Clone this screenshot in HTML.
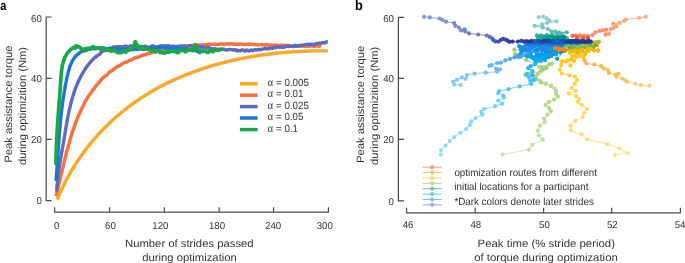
<!DOCTYPE html>
<html><head><meta charset="utf-8"><style>
html,body{margin:0;padding:0;background:#fff;width:685px;height:263px;overflow:hidden}
svg{display:block;will-change:transform}
text{font-family:"Liberation Sans",sans-serif;fill:#333333;text-rendering:geometricPrecision}
</style></head><body>
<svg width="685" height="263" viewBox="0 0 685 263">
<g stroke="#4a4a4a" stroke-width="1.2" fill="none">
<path d="M51.6,17 H46.2 V200.7 H51.6 M46.2,78.3 H51.6 M46.2,139.4 H51.6"/>
<path d="M54.6,207.2 V212.2 H328.4 V207.2 M109.5,212.2 V207.2 M164.4,212.2 V207.2 M219.1,212.2 V207.2 M273.6,212.2 V207.2"/>
<path d="M404,17.3 H398.4 V200.9 H404 M398.4,78.3 H404 M398.4,139.4 H404"/>
<path d="M406.6,207.8 V212.8 H680.4 V207.8 M475.1,212.9 V207.8 M543.6,212.9 V207.8 M611.6,212.9 V207.8"/>
</g>
<path d="M57.2,199.7 L57.4,199.2 L57.6,198.6 L57.8,198.1 L58.0,197.6 L58.3,197.0 L58.5,196.5 L58.7,196.0 L59.0,195.5 L59.2,194.9 L59.4,194.4 L59.6,193.9 L59.9,193.4 L60.1,192.8 L60.3,192.3 L60.6,191.8 L60.8,191.3 L61.1,190.7 L61.3,190.2 L61.5,189.7 L61.8,189.2 L62.0,188.7 L62.3,188.2 L62.5,187.6 L62.8,187.1 L63.0,186.6 L63.3,186.1 L63.5,185.6 L63.8,185.1 L64.0,184.6 L64.3,184.1 L64.5,183.6 L64.8,183.1 L65.0,182.6 L65.3,182.0 L65.5,181.5 L65.8,181.0 L66.1,180.5 L66.3,180.0 L66.6,179.5 L66.9,179.0 L67.1,178.5 L67.4,178.1 L67.7,177.6 L67.9,177.1 L68.2,176.6 L68.5,176.1 L68.7,175.6 L69.0,175.1 L69.3,174.6 L69.6,174.1 L69.8,173.6 L70.1,173.1 L70.4,172.7 L70.7,172.2 L71.0,171.7 L71.2,171.2 L71.5,170.7 L71.8,170.2 L72.1,169.8 L72.4,169.3 L72.7,168.8 L73.0,168.3 L73.3,167.8 L73.5,167.4 L73.8,166.9 L74.1,166.4 L74.4,165.9 L74.7,165.5 L75.0,165.0 L75.3,164.5 L75.6,164.1 L75.9,163.6 L76.2,163.1 L76.5,162.7 L76.8,162.2 L77.1,161.7 L77.4,161.3 L77.7,160.8 L78.1,160.3 L78.4,159.9 L78.7,159.4 L79.0,159.0 L79.3,158.5 L79.6,158.0 L79.9,157.6 L80.2,157.1 L80.6,156.7 L80.9,156.2 L81.2,155.8 L81.5,155.3 L81.8,154.9 L82.1,154.4 L82.5,154.0 L82.8,153.5 L83.1,153.1 L83.4,152.6 L83.8,152.2 L84.1,151.8 L84.4,151.3 L84.8,150.9 L85.1,150.4 L85.4,150.0 L85.7,149.6 L86.1,149.1 L86.4,148.7 L86.7,148.2 L87.1,147.8 L87.4,147.4 L87.8,146.9 L88.1,146.5 L88.4,146.1 L88.8,145.7 L89.1,145.2 L89.5,144.8 L89.8,144.4 L90.2,143.9 L90.5,143.5 L90.8,143.1 L91.2,142.7 L91.5,142.2 L91.9,141.8 L92.2,141.4 L92.6,141.0 L93.0,140.6 L93.3,140.2 L93.7,139.7 L94.0,139.3 L94.4,138.9 L94.7,138.5 L95.1,138.1 L95.4,137.7 L95.8,137.3 L96.2,136.9 L96.5,136.4 L96.9,136.0 L97.3,135.6 L97.6,135.2 L98.0,134.8 L98.4,134.4 L98.7,134.0 L99.1,133.6 L99.5,133.2 L99.8,132.8 L100.2,132.4 L100.6,132.0 L101.0,131.6 L101.3,131.2 L101.7,130.8 L102.1,130.4 L102.5,130.0 L102.8,129.7 L103.2,129.3 L103.6,128.9 L104.0,128.5 L104.4,128.1 L104.7,127.7 L105.1,127.3 L105.5,126.9 L105.9,126.6 L106.3,126.2 L106.7,125.8 L107.1,125.4 L107.4,125.0 L107.8,124.7 L108.2,124.3 L108.6,123.9 L109.0,123.5 L109.4,123.2 L109.8,122.8 L110.2,122.4 L110.6,122.0 L111.0,121.7 L111.4,121.3 L111.8,120.9 L112.2,120.6 L112.6,120.2 L113.0,119.8 L113.4,119.5 L113.8,119.1 L114.2,118.7 L114.6,118.4 L115.0,118.0 L115.4,117.7 L115.8,117.3 L116.2,116.9 L116.6,116.6 L117.0,116.2 L117.4,115.9 L117.8,115.5 L118.3,115.2 L118.7,114.8 L119.1,114.5 L119.5,114.1 L119.9,113.8 L120.3,113.4 L120.7,113.1 L121.2,112.7 L121.6,112.4 L122.0,112.0 L122.4,111.7 L122.8,111.4 L123.3,111.0 L123.7,110.7 L124.1,110.3 L124.5,110.0 L125.0,109.7 L125.4,109.3 L125.8,109.0 L126.2,108.7 L126.7,108.3 L127.1,108.0 L127.5,107.7 L127.9,107.3 L128.4,107.0 L128.8,106.7 L129.2,106.4 L129.7,106.0 L130.1,105.7 L130.5,105.4 L131.0,105.1 L131.4,104.7 L131.9,104.4 L132.3,104.1 L132.7,103.8 L133.2,103.5 L133.6,103.2 L134.0,102.8 L134.5,102.5 L134.9,102.2 L135.4,101.9 L135.8,101.6 L136.3,101.3 L136.7,101.0 L137.2,100.7 L137.6,100.4 L138.0,100.1 L138.5,99.7 L138.9,99.4 L139.4,99.1 L139.8,98.8 L140.3,98.5 L140.7,98.2 L141.2,97.9 L141.6,97.6 L142.1,97.4 L142.6,97.1 L143.0,96.8 L143.5,96.5 L143.9,96.2 L144.4,95.9 L144.8,95.6 L145.3,95.3 L145.8,95.0 L146.2,94.7 L146.7,94.4 L147.1,94.2 L147.6,93.9 L148.1,93.6 L148.5,93.3 L149.0,93.0 L149.5,92.8 L149.9,92.5 L150.4,92.2 L150.9,91.9 L151.3,91.6 L151.8,91.4 L152.3,91.1 L152.7,90.8 L153.2,90.6 L153.7,90.3 L154.1,90.0 L154.6,89.8 L155.1,89.5 L155.6,89.2 L156.0,89.0 L156.5,88.7 L157.0,88.4 L157.5,88.2 L157.9,87.9 L158.4,87.6 L158.9,87.4 L159.4,87.1 L159.8,86.9 L160.3,86.6 L160.8,86.4 L161.3,86.1 L161.8,85.9 L162.2,85.6 L162.7,85.4 L163.2,85.1 L163.7,84.9 L164.2,84.6 L164.7,84.4 L165.1,84.1 L165.6,83.9 L166.1,83.6 L166.6,83.4 L167.1,83.2 L167.6,82.9 L168.1,82.7 L168.6,82.4 L169.1,82.2 L169.5,82.0 L170.0,81.7 L170.5,81.5 L171.0,81.3 L171.5,81.0 L172.0,80.8 L172.5,80.6 L173.0,80.3 L173.5,80.1 L174.0,79.9 L174.5,79.7 L175.0,79.4 L175.5,79.2 L176.0,79.0 L176.5,78.8 L177.0,78.5 L177.5,78.3 L178.0,78.1 L178.5,77.9 L179.0,77.7 L179.5,77.5 L180.0,77.2 L180.5,77.0 L181.0,76.8 L181.5,76.6 L182.0,76.4 L182.5,76.2 L183.0,76.0 L183.5,75.8 L184.0,75.6 L184.5,75.3 L185.0,75.1 L185.5,74.9 L186.0,74.7 L186.5,74.5 L187.1,74.3 L187.6,74.1 L188.1,73.9 L188.6,73.7 L189.1,73.5 L189.6,73.3 L190.1,73.1 L190.6,72.9 L191.1,72.8 L191.7,72.6 L192.2,72.4 L192.7,72.2 L193.2,72.0 L193.7,71.8 L194.2,71.6 L194.7,71.4 L195.3,71.2 L195.8,71.1 L196.3,70.9 L196.8,70.7 L197.3,70.5 L197.8,70.3 L198.4,70.1 L198.9,70.0 L199.4,69.8 L199.9,69.6 L200.4,69.4 L201.0,69.3 L201.5,69.1 L202.0,68.9 L202.5,68.7 L203.0,68.6 L203.6,68.4 L204.1,68.2 L204.6,68.1 L205.1,67.9 L205.7,67.7 L206.2,67.5 L206.7,67.4 L207.2,67.2 L207.8,67.1 L208.3,66.9 L208.8,66.7 L209.3,66.6 L209.9,66.4 L210.4,66.2 L210.9,66.1 L211.4,65.9 L212.0,65.8 L212.5,65.6 L213.0,65.5 L213.6,65.3 L214.1,65.2 L214.6,65.0 L215.1,64.9 L215.7,64.7 L216.2,64.6 L216.7,64.4 L217.3,64.3 L217.8,64.1 L218.3,64.0 L218.9,63.8 L219.4,63.7 L219.9,63.5 L220.5,63.4 L221.0,63.3 L221.5,63.1 L222.1,63.0 L222.6,62.8 L223.1,62.7 L223.7,62.6 L224.2,62.4 L224.7,62.3 L225.3,62.2 L225.8,62.0 L226.3,61.9 L226.9,61.8 L227.4,61.6 L228.0,61.5 L228.5,61.4 L229.0,61.2 L229.6,61.1 L230.1,61.0 L230.6,60.9 L231.2,60.7 L231.7,60.6 L232.3,60.5 L232.8,60.4 L233.3,60.2 L233.9,60.1 L234.4,60.0 L235.0,59.9 L235.5,59.8 L236.0,59.6 L236.6,59.5 L237.1,59.4 L237.7,59.3 L238.2,59.2 L238.8,59.1 L239.3,59.0 L239.8,58.8 L240.4,58.7 L240.9,58.6 L241.5,58.5 L242.0,58.4 L242.5,58.3 L243.1,58.2 L243.6,58.1 L244.2,58.0 L244.7,57.9 L245.3,57.8 L245.8,57.7 L246.4,57.6 L246.9,57.5 L247.4,57.4 L248.0,57.3 L248.5,57.2 L249.1,57.1 L249.6,57.0 L250.2,56.9 L250.7,56.8 L251.3,56.7 L251.8,56.6 L252.4,56.5 L252.9,56.4 L253.4,56.3 L254.0,56.2 L254.5,56.2 L255.1,56.1 L255.6,56.0 L256.2,55.9 L256.7,55.8 L257.3,55.7 L257.8,55.6 L258.4,55.6 L258.9,55.5 L259.5,55.4 L260.0,55.3 L260.6,55.2 L261.1,55.1 L261.6,55.1 L262.2,55.0 L262.7,54.9 L263.3,54.8 L263.8,54.8 L264.4,54.7 L264.9,54.6 L265.5,54.5 L266.0,54.5 L266.6,54.4 L267.1,54.3 L267.7,54.2 L268.2,54.2 L268.8,54.1 L269.3,54.0 L269.9,54.0 L270.4,53.9 L271.0,53.8 L271.5,53.8 L272.1,53.7 L272.6,53.6 L273.2,53.6 L273.7,53.5 L274.3,53.5 L274.8,53.4 L275.4,53.3 L275.9,53.3 L276.5,53.2 L277.0,53.2 L277.6,53.1 L278.1,53.1 L278.7,53.0 L279.2,52.9 L279.8,52.9 L280.3,52.8 L280.9,52.8 L281.4,52.7 L282.0,52.7 L282.5,52.6 L283.1,52.6 L283.6,52.5 L284.1,52.5 L284.7,52.4 L285.2,52.4 L285.8,52.3 L286.3,52.3 L286.9,52.3 L287.4,52.2 L288.0,52.2 L288.5,52.1 L289.1,52.1 L289.6,52.0 L290.2,52.0 L290.7,52.0 L291.3,51.9 L291.8,51.9 L292.4,51.9 L292.9,51.8 L293.5,51.8 L294.0,51.7 L294.6,51.7 L295.1,51.7 L295.7,51.6 L296.2,51.6 L296.8,51.6 L297.3,51.6 L297.9,51.5 L298.4,51.5 L299.0,51.5 L299.5,51.4 L300.1,51.4 L300.6,51.4 L301.1,51.4 L301.7,51.3 L302.2,51.3 L302.8,51.3 L303.3,51.3 L303.9,51.2 L304.4,51.2 L305.0,51.2 L305.5,51.2 L306.1,51.2 L306.6,51.1 L307.2,51.1 L307.7,51.1 L308.2,51.1 L308.8,51.1 L309.3,51.0 L309.9,51.0 L310.4,51.0 L311.0,51.0 L311.5,51.0 L312.1,51.0 L312.6,51.0 L313.1,51.0 L313.7,50.9 L314.2,50.9 L314.8,50.9 L315.3,50.9 L315.9,50.9 L316.4,50.9 L317.0,50.9 L317.5,50.9 L318.0,50.9 L318.6,50.9 L319.1,50.9 L319.7,50.9 L320.2,50.9 L320.7,50.9 L321.3,50.9 L321.8,50.9 L322.4,50.9 L322.9,50.9 L323.5,50.9 L324.0,50.9 L324.5,50.9 L325.1,50.9 L325.6,50.9 L326.2,50.9 L326.7,50.9 L327.2,50.9 L327.8,50.9" fill="none" stroke="#FFA726" stroke-width="3.4" stroke-linejoin="round" stroke-linecap="butt"/>
<path d="M55.9,196.1 L56.1,195.6 L56.2,195.0 L56.4,194.5 L56.5,193.9 L56.7,193.4 L56.8,192.8 L56.9,192.3 L57.1,191.7 L57.2,191.2 L57.4,190.6 L57.5,190.1 L57.6,189.5 L57.8,189.0 L57.9,188.4 L58.1,187.8 L58.2,187.3 L58.3,186.7 L58.5,186.2 L58.6,185.6 L58.7,185.0 L58.9,184.5 L59.0,183.9 L59.1,183.3 L59.3,182.8 L59.4,182.2 L59.6,181.6 L59.7,181.1 L59.8,180.5 L60.0,179.9 L60.1,179.4 L60.2,178.8 L60.4,178.2 L60.5,177.7 L60.6,177.1 L60.8,176.5 L60.9,175.9 L61.0,175.4 L61.2,174.8 L61.3,174.2 L61.4,173.6 L61.6,173.1 L61.7,172.5 L61.9,171.9 L62.0,171.3 L62.1,170.8 L62.3,170.2 L62.4,169.6 L62.5,169.0 L62.7,168.4 L62.8,167.9 L62.9,167.3 L63.1,166.7 L63.2,166.1 L63.4,165.5 L63.5,165.0 L63.6,164.4 L63.8,163.8 L63.9,163.2 L64.0,162.6 L64.2,162.0 L64.3,161.5 L64.5,160.9 L64.6,160.3 L64.8,159.7 L64.9,159.1 L65.0,158.5 L65.2,158.0 L65.3,157.4 L65.5,156.8 L65.6,156.2 L65.8,155.6 L65.9,155.0 L66.1,154.5 L66.2,153.9 L66.4,153.3 L66.5,152.7 L66.7,152.1 L66.8,151.5 L67.0,150.9 L67.1,150.4 L67.3,149.8 L67.4,149.2 L67.6,148.6 L67.7,148.0 L67.9,147.4 L68.0,146.9 L68.2,146.3 L68.4,145.7 L68.5,145.1 L68.7,144.5 L68.8,144.0 L69.0,143.4 L69.2,142.8 L69.3,142.2 L69.5,141.6 L69.7,141.0 L69.8,140.5 L70.0,139.9 L70.2,139.3 L70.4,138.7 L70.5,138.1 L70.7,137.6 L70.9,137.0 L71.1,136.4 L71.2,135.8 L71.4,135.3 L71.6,134.7 L71.8,134.1 L72.0,133.5 L72.1,133.0 L72.3,132.4 L72.5,131.8 L72.7,131.2 L72.9,130.7 L73.1,130.1 L73.3,129.5 L73.5,129.0 L73.7,128.4 L73.9,127.8 L74.1,127.2 L74.3,126.7 L74.5,126.1 L74.7,125.5 L74.9,125.0 L75.1,124.4 L75.3,123.9 L75.5,123.3 L75.7,122.7 L75.9,122.2 L76.1,121.6 L76.3,121.0 L76.6,120.5 L76.8,119.9 L77.0,119.4 L77.2,118.8 L77.4,118.3 L77.7,117.7 L77.9,117.1 L78.1,116.6 L78.4,116.0 L78.6,115.5 L78.8,114.9 L79.1,114.4 L79.3,113.8 L79.6,113.3 L79.8,112.8 L80.0,112.1 L80.3,111.9 L80.5,111.4 L80.8,110.6 L81.0,109.8 L81.3,109.5 L81.6,109.1 L81.8,108.6 L82.1,108.0 L82.3,107.5 L82.6,107.0 L82.9,106.4 L83.1,105.8 L83.4,105.2 L83.7,104.8 L84.0,104.2 L84.2,103.5 L84.5,102.7 L84.8,102.2 L85.1,101.7 L85.4,101.2 L85.7,100.8 L86.0,100.3 L86.3,99.7 L86.6,99.2 L86.9,98.7 L87.2,98.1 L87.5,97.6 L87.8,97.2 L88.1,96.8 L88.4,96.5 L88.7,95.9 L89.0,95.2 L89.4,94.9 L89.7,94.7 L90.0,94.3 L90.3,93.7 L90.7,93.1 L91.0,92.6 L91.3,92.1 L91.7,91.6 L92.0,91.2 L92.3,90.6 L92.7,89.9 L93.0,89.6 L93.4,89.4 L93.7,89.0 L94.1,88.5 L94.4,88.0 L94.8,87.5 L95.2,87.0 L95.5,86.4 L95.9,85.8 L96.3,85.5 L96.6,85.2 L97.0,84.8 L97.4,84.3 L97.8,83.8 L98.2,83.3 L98.5,82.9 L98.9,82.5 L99.3,82.2 L99.7,81.6 L100.1,81.1 L100.5,80.6 L100.9,80.0 L101.3,79.6 L101.7,79.3 L102.1,78.8 L102.5,78.3 L103.0,77.7 L103.4,77.3 L103.8,76.9 L104.2,76.7 L104.6,76.6 L105.1,76.2 L105.5,75.9 L105.9,75.5 L106.4,75.2 L106.8,74.9 L107.3,74.5 L107.7,74.0 L108.1,73.5 L108.6,73.0 L109.0,72.5 L109.5,72.0 L110.0,71.6 L110.4,71.4 L110.9,71.2 L111.4,71.1 L111.8,70.9 L112.3,70.5 L112.8,70.1 L113.2,69.6 L113.7,69.2 L114.2,68.8 L114.7,68.5 L115.2,68.1 L115.7,67.7 L116.2,67.3 L116.6,67.0 L117.1,66.7 L117.6,66.3 L118.1,66.0 L118.6,65.9 L119.1,65.9 L119.7,65.8 L120.2,65.4 L120.7,65.0 L121.2,64.5 L121.7,64.0 L122.2,63.8 L122.7,63.7 L123.2,63.3 L123.8,62.9 L124.3,62.6 L124.8,62.4 L125.3,62.3 L125.9,62.2 L126.4,62.1 L126.9,61.8 L127.4,61.6 L128.0,61.3 L128.5,60.9 L129.0,60.6 L129.6,60.3 L130.1,60.1 L130.7,60.0 L131.2,59.9 L131.7,59.8 L132.3,59.7 L132.8,59.3 L133.4,58.8 L133.9,58.4 L134.5,58.1 L135.0,57.8 L135.5,57.6 L136.1,57.4 L136.6,57.2 L137.2,57.0 L137.7,57.2 L138.3,57.4 L138.8,57.0 L139.4,56.6 L139.9,56.5 L140.5,56.4 L141.0,56.1 L141.6,55.6 L142.2,55.3 L142.7,55.1 L143.3,55.0 L143.8,55.0 L144.4,55.0 L144.9,54.9 L145.5,54.8 L146.1,54.5 L146.6,54.1 L147.2,53.7 L147.7,53.5 L148.3,53.3 L148.9,53.4 L149.4,53.6 L150.0,53.2 L150.5,52.8 L151.1,52.7 L151.7,52.8 L152.2,52.6 L152.8,52.2 L153.4,51.9 L153.9,52.0 L154.5,52.1 L155.1,52.0 L155.6,51.9 L156.2,51.7 L156.8,51.5 L157.3,51.2 L157.9,51.0 L158.5,50.8 L159.1,50.8 L159.6,50.7 L160.2,50.4 L160.8,50.0 L161.3,50.0 L161.9,49.9 L162.5,49.8 L163.1,49.8 L163.6,49.8 L164.2,49.8 L164.8,49.7 L165.4,49.3 L165.9,49.0 L166.5,49.2 L167.1,49.4 L167.7,49.2 L168.3,49.1 L168.8,49.0 L169.4,49.0 L170.0,48.8 L170.6,48.4 L171.2,48.1 L171.7,48.0 L172.3,47.8 L172.9,47.7 L173.5,47.7 L174.1,47.8 L174.6,47.9 L175.2,48.0 L175.8,47.9 L176.4,47.8 L177.0,47.6 L177.6,47.4 L178.1,47.2 L178.7,47.1 L179.3,46.9 L179.9,46.7 L180.5,46.9 L181.1,47.0 L181.7,47.0 L182.3,47.0 L182.8,46.7 L183.4,46.3 L184.0,46.1 L184.6,46.0 L185.2,46.1 L185.8,46.3 L186.4,46.4 L187.0,46.4 L187.6,46.3 L188.2,46.1 L188.7,45.8 L189.3,45.7 L189.9,45.6 L190.5,45.5 L191.1,45.6 L191.7,45.6 L192.3,45.5 L192.9,45.5 L193.5,45.3 L194.1,45.1 L194.7,45.3 L195.3,45.5 L195.9,45.5 L196.5,45.3 L197.1,45.3 L197.7,45.3 L198.3,45.2 L198.8,45.0 L199.4,44.8 L200.0,45.1 L200.6,45.3 L201.2,45.2 L201.8,45.1 L202.4,44.9 L203.0,44.7 L203.6,44.8 L204.2,45.0 L204.8,45.0 L205.4,44.9 L206.0,44.8 L206.6,44.9 L207.2,44.8 L207.8,44.5 L208.4,44.1 L209.0,44.1 L209.6,44.1 L210.2,44.3 L210.8,44.6 L211.4,44.5 L212.0,44.3 L212.6,44.2 L213.2,44.3 L213.8,44.3 L214.4,44.1 L215.0,44.1 L215.6,44.4 L216.2,44.7 L216.8,44.5 L217.4,44.3 L218.0,44.4 L218.6,44.5 L219.2,44.3 L219.8,44.0 L220.4,43.9 L221.0,44.1 L221.6,44.1 L222.2,43.9 L222.8,43.9 L223.5,44.2 L224.1,44.5 L224.7,44.3 L225.3,44.1 L225.9,44.0 L226.5,43.8 L227.1,43.8 L227.7,43.8 L228.3,43.9 L228.9,44.1 L229.5,44.1 L230.1,43.9 L230.7,43.8 L231.3,43.8 L231.9,43.9 L232.5,44.0 L233.1,44.1 L233.7,44.1 L234.3,44.2 L234.9,44.2 L235.5,44.3 L236.1,44.3 L236.7,44.3 L237.3,44.3 L237.9,44.2 L238.5,44.2 L239.1,44.3 L239.7,44.3 L240.4,44.1 L241.0,44.0 L241.6,44.0 L242.2,44.1 L242.8,44.3 L243.4,44.6 L244.0,44.4 L244.6,44.1 L245.2,44.1 L245.8,44.1 L246.4,44.2 L247.0,44.2 L247.6,44.2 L248.2,44.3 L248.8,44.4 L249.4,44.2 L250.0,44.0 L250.6,44.1 L251.2,44.1 L251.8,44.3 L252.4,44.5 L253.0,44.5 L253.6,44.4 L254.2,44.4 L254.8,44.7 L255.4,44.8 L256.0,44.9 L256.6,44.9 L257.2,44.9 L257.8,44.8 L258.4,44.9 L259.0,44.9 L259.6,44.9 L260.2,44.7 L260.8,44.6 L261.4,44.5 L262.0,44.6 L262.6,44.7 L263.2,44.8 L263.8,44.8 L264.4,44.9 L265.0,45.0 L265.6,45.1 L266.2,44.9 L266.8,44.7 L267.4,44.8 L268.0,44.8 L268.6,45.0 L269.2,45.3 L269.8,45.3 L270.4,45.1 L271.0,45.0 L271.6,45.1 L272.2,45.2 L272.8,45.4 L273.4,45.7 L274.0,45.4 L274.6,45.1 L275.2,45.1 L275.8,45.0 L276.4,45.2 L277.0,45.5 L277.6,45.6 L278.2,45.5 L278.8,45.5 L279.4,45.6 L280.0,45.6 L280.5,45.3 L281.1,45.1 L281.7,45.3 L282.3,45.4 L282.9,45.4 L283.5,45.2 L284.1,45.2 L284.7,45.3 L285.3,45.5 L285.9,45.7 L286.5,45.8 L287.1,45.6 L287.6,45.3 L288.2,45.4 L288.8,45.5 L289.4,45.8 L290.0,46.1 L290.6,46.2 L291.2,46.2 L291.8,46.2 L292.3,46.0 L292.9,45.8 L293.5,46.0 L294.1,46.1 L294.7,46.1 L295.3,46.0 L295.9,46.0 L296.4,45.9 L297.0,46.0 L297.6,46.1 L298.2,46.2 L298.8,46.0 L299.4,45.7 L299.9,45.9 L300.5,46.2 L301.1,46.1 L301.7,45.7 L302.3,45.8 L302.9,46.1 L303.4,46.3 L304.0,46.3 L304.6,46.2 L305.2,46.1 L305.7,46.0 L306.3,46.1 L306.9,46.2 L307.5,46.2 L308.1,46.1 L308.6,46.0 L309.2,46.2 L309.8,46.3 L310.4,46.0 L310.9,45.8 L311.5,45.8 L312.1,46.0 L312.6,46.1 L313.2,46.2 L313.8,46.4 L314.4,46.4 L314.9,46.4 L315.5,46.1 L316.1,45.8 L316.6,45.7 L317.2,45.7 L317.8,45.8 L318.3,46.1 L318.9,46.3 L319.5,46.0 L320.0,45.8 L320.6,45.7 L321.2,45.5" fill="none" stroke="#FF6E40" stroke-width="3.4" stroke-linejoin="round" stroke-linecap="butt"/>
<path d="M56.6,191.6 L56.7,190.9 L56.7,190.3 L56.8,189.6 L56.8,189.0 L56.9,188.3 L56.9,187.7 L57.0,187.0 L57.0,186.4 L57.1,185.7 L57.1,185.1 L57.2,184.5 L57.2,183.8 L57.3,183.2 L57.4,182.5 L57.4,181.9 L57.5,181.3 L57.6,180.6 L57.6,180.0 L57.7,179.4 L57.8,178.7 L57.9,178.1 L57.9,177.5 L58.0,176.9 L58.1,176.2 L58.2,175.6 L58.2,175.0 L58.3,174.3 L58.4,173.7 L58.5,173.1 L58.6,172.5 L58.7,171.8 L58.7,171.2 L58.8,170.6 L58.9,170.0 L59.0,169.4 L59.1,168.7 L59.2,168.1 L59.3,167.5 L59.4,166.9 L59.5,166.3 L59.6,165.6 L59.6,165.0 L59.7,164.4 L59.8,163.8 L59.9,163.2 L60.0,162.6 L60.1,161.9 L60.2,161.3 L60.3,160.7 L60.4,160.1 L60.5,159.5 L60.6,158.9 L60.7,158.2 L60.8,157.6 L60.9,157.0 L61.1,156.4 L61.2,155.8 L61.3,155.2 L61.4,154.6 L61.5,153.9 L61.6,153.3 L61.7,152.7 L61.8,152.1 L61.9,151.5 L62.0,150.9 L62.1,150.2 L62.2,149.6 L62.3,149.0 L62.4,148.4 L62.5,147.8 L62.6,147.2 L62.7,146.5 L62.9,145.9 L63.0,145.3 L63.1,144.7 L63.2,144.1 L63.3,143.4 L63.4,142.8 L63.5,142.2 L63.6,141.6 L63.7,140.9 L63.8,140.3 L63.9,139.7 L64.0,139.1 L64.1,138.4 L64.2,137.8 L64.3,137.2 L64.4,136.6 L64.5,135.9 L64.7,135.3 L64.8,134.7 L64.9,134.0 L65.0,133.4 L65.1,132.8 L65.2,132.2 L65.3,131.5 L65.4,130.9 L65.5,130.3 L65.6,129.6 L65.7,129.0 L65.8,128.4 L65.9,127.7 L66.0,127.1 L66.1,126.5 L66.3,125.8 L66.4,125.2 L66.5,124.6 L66.6,123.9 L66.7,123.3 L66.8,122.7 L66.9,122.0 L67.0,121.4 L67.2,120.8 L67.3,120.1 L67.4,119.5 L67.5,118.9 L67.6,118.2 L67.7,117.6 L67.9,117.0 L68.0,116.3 L68.1,115.7 L68.2,115.1 L68.4,114.4 L68.5,113.8 L68.6,113.2 L68.8,112.5 L68.9,111.9 L69.0,111.3 L69.2,110.7 L69.3,110.0 L69.4,109.4 L69.6,108.8 L69.7,108.2 L69.9,107.5 L70.0,106.9 L70.2,106.3 L70.3,105.7 L70.5,105.0 L70.6,104.4 L70.8,103.8 L70.9,103.2 L71.1,102.6 L71.3,101.9 L71.4,101.3 L71.6,100.7 L71.8,100.1 L71.9,99.5 L72.1,98.9 L72.3,98.2 L72.5,97.6 L72.6,97.0 L72.8,96.4 L73.0,95.8 L73.2,95.2 L73.4,94.6 L73.6,94.0 L73.8,93.4 L74.0,92.8 L74.2,92.2 L74.4,91.6 L74.6,91.0 L74.8,90.4 L75.0,89.8 L75.2,89.2 L75.4,88.6 L75.7,88.0 L75.9,87.4 L76.1,86.8 L76.3,86.2 L76.6,85.6 L76.8,85.1 L77.1,84.5 L77.3,83.9 L77.6,83.3 L77.8,82.7 L78.1,82.2 L78.3,81.6 L78.6,81.0 L78.8,80.4 L79.1,79.9 L79.4,79.3 L79.7,78.7 L79.9,78.2 L80.2,77.6 L80.5,77.1 L80.8,76.5 L81.1,75.9 L81.4,75.4 L81.7,74.8 L82.0,74.3 L82.3,73.7 L82.6,73.2 L83.0,72.7 L83.3,72.1 L83.6,71.6 L83.9,71.0 L84.3,70.5 L84.6,70.0 L85.0,69.4 L85.3,68.9 L85.7,68.4 L86.0,67.9 L86.4,67.3 L86.8,66.8 L87.1,66.3 L87.5,65.8 L87.9,65.3 L88.3,64.8 L88.7,64.3 L89.0,63.8 L89.4,63.3 L89.8,62.8 L90.3,62.3 L90.7,61.8 L91.1,61.4 L91.5,60.9 L91.9,60.4 L92.4,60.0 L92.8,59.5 L93.2,59.1 L93.7,58.6 L94.1,58.2 L94.6,57.8 L95.0,57.3 L95.5,57.5 L96.0,56.8 L96.4,56.1 L96.9,55.9 L97.4,55.7 L97.9,55.3 L98.3,54.9 L98.8,54.7 L99.3,54.5 L99.8,54.2 L100.3,53.7 L100.8,52.7 L101.4,51.8 L101.9,51.4 L102.4,51.2 L102.9,51.3 L103.4,51.2 L104.0,50.6 L104.5,50.1 L105.1,50.3 L105.6,50.4 L106.2,50.1 L106.7,49.8 L107.3,49.7 L107.8,49.5 L108.4,49.1 L109.0,48.8 L109.6,48.5 L110.1,48.3 L110.7,48.6 L111.3,48.8 L111.9,48.5 L112.5,48.1 L113.1,47.4 L113.7,46.9 L114.3,46.9 L114.9,46.9 L115.5,47.2 L116.1,47.3 L116.7,46.9 L117.3,46.7 L117.9,46.7 L118.5,46.9 L119.2,47.1 L119.8,46.9 L120.4,46.6 L121.0,46.7 L121.7,47.1 L122.3,47.0 L122.9,46.8 L123.6,46.7 L124.2,46.5 L124.8,46.2 L125.5,45.9 L126.1,46.1 L126.7,46.3 L127.4,46.6 L128.0,46.8 L128.7,47.0 L129.3,46.7 L130.0,46.0 L130.6,45.8 L131.3,45.8 L131.9,46.2 L132.5,46.7 L133.2,46.8 L133.8,46.9 L134.5,46.3 L135.1,46.0 L135.8,46.6 L136.4,47.0 L137.1,46.9 L137.7,46.9 L138.4,46.8 L139.0,46.6 L139.7,46.3 L140.3,46.4 L141.0,46.5 L141.6,46.4 L142.3,46.4 L142.9,46.8 L143.6,47.0 L144.2,46.6 L144.9,46.3 L145.5,46.3 L146.1,46.6 L146.8,47.1 L147.4,47.2 L148.1,47.2 L148.7,47.2 L149.4,47.3 L150.0,47.1 L150.6,47.0 L151.3,46.4 L151.9,45.9 L152.5,45.9 L153.2,46.0 L153.8,46.4 L154.5,46.7 L155.1,46.9 L155.7,47.0 L156.4,47.0 L157.0,46.9 L157.6,46.7 L158.3,46.8 L158.9,47.0 L159.6,46.5 L160.2,45.8 L160.8,45.9 L161.5,45.9 L162.1,46.0 L162.7,46.0 L163.4,46.0 L164.0,45.9 L164.6,46.0 L165.3,45.9 L165.9,45.7 L166.5,45.8 L167.2,46.0 L167.8,45.8 L168.4,45.6 L169.0,45.8 L169.7,46.2 L170.3,46.5 L170.9,46.8 L171.6,46.4 L172.2,46.1 L172.8,46.2 L173.5,46.3 L174.1,46.3 L174.7,46.3 L175.4,46.6 L176.0,46.7 L176.6,46.5 L177.2,46.5 L177.9,46.5 L178.5,46.4 L179.1,46.0 L179.8,46.1 L180.4,46.6 L181.0,46.3 L181.6,45.8 L182.3,45.8 L182.9,46.0 L183.5,46.2 L184.2,46.5 L184.8,46.2 L185.4,45.9 L186.0,46.4 L186.7,46.8 L187.3,46.8 L187.9,46.7 L188.5,46.2 L189.2,45.8 L189.8,45.9 L190.4,45.9 L191.1,45.8 L191.7,46.1 L192.3,46.7 L192.9,46.8 L193.6,46.4 L194.2,46.4 L194.8,46.4 L195.5,46.4 L196.1,46.4 L196.7,46.3 L197.3,46.2 L198.0,46.5 L198.6,46.8 L199.2,46.7 L199.8,46.6 L200.5,47.0 L201.1,47.1 L201.7,46.9 L202.4,46.9 L203.0,47.2 L203.6,47.5 L204.2,47.9 L204.9,47.9 L205.5,47.5 L206.1,47.7 L206.8,48.2 L207.4,47.9 L208.0,47.2 L208.6,47.5 L209.3,48.0 L209.9,48.1 L210.5,48.2 L211.2,48.6 L211.8,48.9 L212.4,48.9 L213.0,48.9 L213.7,48.6 L214.3,48.5 L214.9,48.8 L215.6,49.1 L216.2,49.3 L216.8,49.3 L217.4,49.2 L218.1,49.3 L218.7,49.6 L219.3,49.7 L220.0,49.7 L220.6,49.5 L221.2,49.2 L221.8,49.4 L222.5,49.5 L223.1,49.2 L223.7,49.0 L224.4,49.3 L225.0,49.5 L225.6,49.9 L226.2,50.1 L226.9,50.0 L227.5,49.8 L228.1,49.6 L228.8,49.5 L229.4,49.4 L230.0,49.5 L230.6,49.6 L231.3,49.6 L231.9,49.6 L232.5,49.7 L233.2,49.8 L233.8,50.0 L234.4,50.1 L235.0,49.9 L235.7,49.7 L236.3,50.4 L236.9,50.9 L237.6,50.5 L238.2,50.4 L238.8,50.5 L239.4,50.6 L240.1,50.7 L240.7,50.6 L241.3,50.2 L242.0,50.0 L242.6,50.0 L243.2,50.0 L243.8,50.1 L244.5,50.6 L245.1,51.2 L245.7,50.7 L246.3,50.0 L247.0,50.2 L247.6,50.4 L248.2,50.8 L248.9,51.0 L249.5,50.8 L250.1,50.5 L250.7,50.0 L251.4,49.9 L252.0,50.5 L252.6,50.7 L253.3,50.3 L253.9,50.0 L254.5,49.8 L255.1,49.7 L255.8,49.8 L256.4,49.9 L257.0,50.0 L257.7,49.7 L258.3,49.2 L258.9,49.5 L259.5,49.9 L260.2,49.8 L260.8,49.7 L261.4,49.3 L262.0,49.0 L262.7,49.1 L263.3,49.1 L263.9,48.8 L264.6,48.6 L265.2,48.3 L265.8,48.4 L266.4,48.8 L267.1,48.8 L267.7,48.6 L268.3,48.7 L269.0,48.9 L269.6,48.5 L270.2,47.9 L270.8,48.0 L271.5,48.1 L272.1,48.2 L272.7,48.2 L273.3,47.6 L274.0,47.2 L274.6,47.4 L275.2,47.5 L275.8,47.7 L276.5,47.6 L277.1,47.2 L277.7,47.0 L278.3,47.0 L279.0,47.1 L279.6,47.2 L280.2,47.1 L280.9,46.9 L281.5,47.1 L282.1,47.4 L282.7,47.4 L283.4,47.3 L284.0,47.2 L284.6,47.1 L285.2,46.7 L285.9,46.4 L286.5,46.1 L287.1,46.0 L287.7,46.3 L288.4,46.5 L289.0,46.2 L289.6,46.1 L290.2,46.1 L290.9,46.2 L291.5,46.2 L292.1,46.3 L292.7,46.5 L293.3,46.5 L294.0,46.3 L294.6,45.9 L295.2,45.3 L295.8,45.6 L296.5,46.2 L297.1,46.0 L297.7,45.8 L298.3,45.5 L299.0,45.2 L299.6,45.5 L300.2,45.7 L300.8,45.4 L301.5,45.2 L302.1,45.3 L302.7,45.2 L303.3,45.2 L304.0,45.0 L304.6,44.7 L305.2,44.5 L305.8,44.6 L306.5,44.7 L307.1,44.7 L307.7,44.4 L308.3,44.1 L308.9,44.3 L309.6,44.8 L310.2,44.6 L310.8,44.2 L311.4,44.2 L312.1,44.3 L312.7,44.6 L313.3,44.9 L314.0,44.7 L314.6,44.5 L315.2,44.0 L315.8,43.6 L316.5,43.6 L317.1,43.7 L317.7,43.7 L318.3,43.5 L319.0,43.1 L319.6,43.2 L320.2,43.6 L320.9,43.5 L321.5,43.0 L322.1,42.7 L322.7,42.5 L323.4,42.8 L324.0,43.1 L324.6,42.9 L325.3,42.6 L325.9,42.1 L326.5,41.8 L327.2,42.2 L327.8,42.4" fill="none" stroke="#5C6BC0" stroke-width="3.4" stroke-linejoin="round" stroke-linecap="butt"/>
<path d="M56.1,181.0 L56.1,180.6 L56.1,180.2 L56.2,179.7 L56.2,179.3 L56.2,178.9 L56.3,178.4 L56.3,178.0 L56.3,177.6 L56.3,177.1 L56.4,176.7 L56.4,176.3 L56.4,175.9 L56.5,175.4 L56.5,175.0 L56.5,174.6 L56.6,174.1 L56.6,173.7 L56.6,173.3 L56.7,172.9 L56.7,172.4 L56.7,172.0 L56.7,171.6 L56.8,171.1 L56.8,170.7 L56.8,170.3 L56.9,169.9 L56.9,169.4 L56.9,169.0 L57.0,168.6 L57.0,168.2 L57.0,167.7 L57.0,167.3 L57.1,166.9 L57.1,166.4 L57.1,166.0 L57.2,165.6 L57.2,165.2 L57.2,164.7 L57.2,164.3 L57.3,163.9 L57.3,163.5 L57.3,163.0 L57.4,162.6 L57.4,162.2 L57.4,161.7 L57.4,161.3 L57.5,160.9 L57.5,160.5 L57.5,160.0 L57.6,159.6 L57.6,159.2 L57.6,158.8 L57.6,158.3 L57.7,157.9 L57.7,157.5 L57.7,157.1 L57.8,156.6 L57.8,156.2 L57.8,155.8 L57.8,155.4 L57.9,154.9 L57.9,154.5 L57.9,154.1 L57.9,153.7 L58.0,153.2 L58.0,152.8 L58.0,152.4 L58.1,152.0 L58.1,151.5 L58.1,151.1 L58.1,150.7 L58.2,150.3 L58.2,149.8 L58.2,149.4 L58.3,149.0 L58.3,148.6 L58.3,148.1 L58.3,147.7 L58.4,147.3 L58.4,146.9 L58.4,146.4 L58.5,146.0 L58.5,145.6 L58.5,145.2 L58.6,144.7 L58.6,144.3 L58.6,143.9 L58.6,143.5 L58.7,143.0 L58.7,142.6 L58.7,142.2 L58.8,141.8 L58.8,141.3 L58.8,140.9 L58.9,140.5 L58.9,140.1 L58.9,139.6 L59.0,139.2 L59.0,138.8 L59.0,138.4 L59.0,137.9 L59.1,137.5 L59.1,137.1 L59.1,136.7 L59.2,136.2 L59.2,135.8 L59.2,135.4 L59.3,135.0 L59.3,134.5 L59.3,134.1 L59.4,133.7 L59.4,133.3 L59.4,132.8 L59.5,132.4 L59.5,132.0 L59.5,131.6 L59.6,131.1 L59.6,130.7 L59.7,130.3 L59.7,129.9 L59.7,129.5 L59.8,129.0 L59.8,128.6 L59.8,128.2 L59.9,127.8 L59.9,127.3 L59.9,126.9 L60.0,126.5 L60.0,126.1 L60.1,125.6 L60.1,125.2 L60.1,124.8 L60.2,124.4 L60.2,123.9 L60.3,123.5 L60.3,123.1 L60.3,122.7 L60.4,122.2 L60.4,121.8 L60.5,121.4 L60.5,121.0 L60.5,120.5 L60.6,120.1 L60.6,119.7 L60.7,119.3 L60.7,118.8 L60.8,118.4 L60.8,118.0 L60.8,117.6 L60.9,117.1 L60.9,116.7 L61.0,116.3 L61.0,115.8 L61.1,115.4 L61.1,115.0 L61.2,114.6 L61.2,114.1 L61.3,113.7 L61.3,113.3 L61.4,112.9 L61.4,112.4 L61.4,112.0 L61.5,111.6 L61.5,111.2 L61.6,110.7 L61.6,110.3 L61.7,109.9 L61.7,109.5 L61.8,109.0 L61.9,108.6 L61.9,108.2 L62.0,107.8 L62.0,107.3 L62.1,106.9 L62.1,106.5 L62.2,106.0 L62.2,105.6 L62.3,105.2 L62.3,104.8 L62.4,104.3 L62.5,103.9 L62.5,103.5 L62.6,103.1 L62.6,102.6 L62.7,102.2 L62.7,101.8 L62.8,101.3 L62.9,100.9 L62.9,100.5 L63.0,100.1 L63.0,99.6 L63.1,99.2 L63.2,98.8 L63.2,98.3 L63.3,97.9 L63.4,97.5 L63.4,97.1 L63.5,96.6 L63.6,96.2 L63.6,95.8 L63.7,95.3 L63.8,94.9 L63.8,94.5 L63.9,94.1 L64.0,93.6 L64.0,93.2 L64.1,92.8 L64.2,92.3 L64.2,91.9 L64.3,91.5 L64.4,91.1 L64.5,90.6 L64.5,90.2 L64.6,89.8 L64.7,89.3 L64.8,88.9 L64.8,88.5 L64.9,88.0 L65.0,87.6 L65.1,87.2 L65.1,86.7 L65.2,86.3 L65.3,85.9 L65.4,85.5 L65.5,85.0 L65.5,84.6 L65.6,84.2 L65.7,83.7 L65.8,83.3 L65.9,82.9 L65.9,82.4 L66.0,82.0 L66.1,81.6 L66.2,81.1 L66.3,80.7 L66.4,80.3 L66.5,79.8 L66.6,79.4 L66.6,79.0 L66.7,78.5 L66.8,78.1 L66.9,77.7 L67.0,77.2 L67.1,76.8 L67.2,76.4 L67.3,75.9 L67.4,75.5 L67.5,75.1 L67.6,74.6 L67.7,74.2 L67.8,73.8 L67.9,73.4 L68.0,72.9 L68.1,72.5 L68.2,72.1 L68.3,71.7 L68.4,71.2 L68.6,70.8 L68.7,70.4 L68.8,70.0 L68.9,69.6 L69.0,69.2 L69.2,68.8 L69.3,68.4 L69.4,67.9 L69.6,67.5 L69.7,67.1 L69.8,66.7 L70.0,66.3 L70.1,66.0 L70.3,65.6 L70.4,65.2 L70.6,64.8 L70.7,64.4 L70.9,64.0 L71.1,63.6 L71.2,63.3 L71.4,62.9 L71.6,62.5 L71.8,62.2 L71.9,61.8 L72.1,61.5 L72.3,61.1 L72.5,60.7 L72.7,60.4 L72.9,60.1 L73.1,59.7 L73.3,59.4 L73.5,59.1 L73.7,58.7 L74.0,58.4 L74.2,58.1 L74.4,57.8 L74.7,57.5 L74.9,57.2 L75.1,56.9 L75.4,56.6 L75.6,56.3 L75.9,56.0 L76.2,55.7 L76.4,55.5 L76.7,55.2 L77.0,54.9 L77.3,54.7 L77.6,54.4 L77.9,54.2 L78.2,53.9 L78.5,53.7 L78.8,53.5 L79.1,53.2 L79.4,53.0 L79.7,52.8 L80.1,52.4 L80.4,52.1 L80.8,51.9 L81.1,51.6 L81.5,51.5 L81.8,51.4 L82.2,51.3 L82.5,51.2 L82.9,51.1 L83.3,51.0 L83.7,50.8 L84.1,50.7 L84.4,50.7 L84.8,50.7 L85.2,50.6 L85.6,50.6 L86.0,50.4 L86.4,50.1 L86.8,49.8 L87.2,49.6 L87.6,49.4 L88.0,49.2 L88.4,49.0 L88.9,48.9 L89.3,49.1 L89.7,49.2 L90.1,49.3 L90.5,49.2 L90.9,49.0 L91.4,48.7 L91.8,48.4 L92.2,48.4 L92.7,48.5 L93.1,48.5 L93.5,48.6 L93.9,48.6 L94.4,48.7 L94.8,48.8 L95.3,48.7 L95.7,48.6 L96.1,48.5 L96.6,48.4 L97.0,48.3 L97.5,48.3 L97.9,48.2 L98.3,48.2 L98.8,48.3 L99.2,48.4 L99.7,48.5 L100.1,48.4 L100.6,48.2 L101.0,47.9 L101.5,47.8 L101.9,47.9 L102.4,48.1 L102.8,48.3 L103.3,48.3 L103.7,48.3 L104.2,48.2 L104.7,48.2 L105.1,48.4 L105.6,48.6 L106.0,48.7 L106.5,48.8 L106.9,48.8 L107.4,48.8 L107.8,48.7 L108.3,48.5 L108.7,48.3 L109.2,48.2 L109.6,48.1 L110.1,48.2 L110.6,48.2 L111.0,48.3 L111.5,48.4 L111.9,48.5 L112.4,48.6 L112.8,48.7 L113.3,48.8 L113.7,48.9 L114.2,49.0 L114.6,48.9 L115.1,48.8 L115.5,48.8 L116.0,48.7 L116.4,48.8 L116.9,48.8 L117.3,48.8 L117.7,49.0 L118.2,49.1 L118.6,49.3 L119.1,49.5 L119.5,49.5 L119.9,49.5 L120.4,49.6 L120.8,49.5 L121.2,49.4 L121.7,49.3 L122.1,49.1 L122.5,49.2 L123.0,49.3 L123.4,49.5 L123.8,49.6 L124.2,49.5 L124.7,49.3 L125.1,49.2 L125.5,49.1 L125.9,49.0 L126.3,48.9 L126.8,48.9 L127.2,48.9 L127.6,49.0 L128.0,49.1 L128.4,49.2 L128.9,49.3 L129.3,49.3 L129.7,49.3 L130.1,49.4 L130.5,49.4 L130.9,49.5 L131.3,49.5 L131.7,49.6 L132.2,49.6 L132.6,49.6 L133.0,49.6 L133.4,49.6 L133.8,49.6 L134.2,49.5 L134.6,49.4 L135.0,49.4 L135.4,49.3 L135.9,49.3 L136.3,49.3 L136.7,49.3 L137.1,49.3 L137.5,49.2 L137.9,49.2 L138.3,49.2 L138.7,49.1 L139.1,49.1 L139.5,49.1 L140.0,49.1 L140.4,49.1 L140.8,49.1 L141.2,49.1 L141.6,49.1 L142.0,49.1 L142.4,49.2 L142.8,49.2 L143.3,49.1 L143.7,48.9 L144.1,48.7 L144.5,48.6 L144.9,48.4 L145.3,48.3 L145.8,48.3 L146.2,48.2 L146.6,48.2 L147.0,48.2 L147.4,48.2 L147.9,48.2 L148.3,48.2 L148.7,48.2 L149.1,48.1 L149.5,48.1 L150.0,48.1 L150.4,48.2 L150.8,48.2 L151.2,48.2 L151.7,48.3 L152.1,48.4 L152.5,48.5 L152.9,48.4 L153.4,48.2 L153.8,47.9 L154.2,47.7 L154.7,47.8 L155.1,47.9 L155.5,48.0 L155.9,48.1 L156.4,48.2 L156.8,48.3 L157.2,48.3 L157.7,48.3 L158.1,48.1 L158.5,47.9 L158.9,47.8 L159.4,47.7 L159.8,47.6 L160.2,47.6 L160.7,47.5 L161.1,47.6 L161.5,47.6 L162.0,47.6 L162.4,47.6 L162.8,47.6 L163.3,47.5 L163.7,47.5 L164.1,47.6 L164.6,47.8 L165.0,48.0 L165.4,48.2 L165.9,48.0 L166.3,47.8 L166.7,47.7 L167.2,47.6 L167.6,47.6 L168.0,47.6 L168.4,47.6 L168.9,47.7 L169.3,47.9 L169.7,48.1 L170.2,48.2 L170.6,48.2 L171.0,48.2 L171.5,48.3 L171.9,48.2 L172.3,48.2 L172.8,48.2 L173.2,48.1 L173.6,48.2 L174.1,48.3 L174.5,48.4 L174.9,48.5 L175.3,48.3 L175.8,48.1 L176.2,47.9 L176.6,47.8 L177.1,48.0 L177.5,48.3 L177.9,48.6 L178.3,48.7 L178.8,48.6 L179.2,48.6 L179.6,48.5 L180.0,48.4 L180.5,48.4 L180.9,48.4 L181.3,48.3 L181.7,48.5 L182.2,48.7 L182.6,48.9 L183.0,49.0 L183.4,49.0 L183.8,49.0 L184.3,49.1 L184.7,49.1 L185.1,49.2 L185.5,49.4 L185.9,49.5 L186.4,49.5 L186.8,49.3 L187.2,49.2 L187.6,49.0 L188.0,49.1 L188.4,49.3 L188.9,49.5 L189.3,49.7 L189.7,49.7 L190.1,49.8 L190.5,49.8 L190.9,49.9 L191.3,50.0 L191.7,50.2 L192.1,50.3 L192.5,50.4 L192.9,50.4 L193.4,50.4 L193.8,50.4 L194.2,50.4 L194.6,50.4 L195.0,50.5 L195.4,50.5 L195.8,50.7 L196.2,50.9 L196.6,51.1 L197.0,51.4 L197.4,51.5 L197.8,51.6 L198.1,51.7 L198.5,51.7 L198.9,52.0 L199.3,52.2 L199.7,52.5 L200.1,52.7 L200.5,52.8 L200.9,52.8" fill="none" stroke="#1976D2" stroke-width="3.4" stroke-linejoin="round" stroke-linecap="butt"/>
<path d="M55.9,165.1 L55.9,164.6 L55.9,164.1 L55.9,163.7 L56.0,163.2 L56.0,162.7 L56.0,162.2 L56.0,161.8 L56.0,161.3 L56.0,160.8 L56.0,160.4 L56.0,159.9 L56.0,159.4 L56.0,158.9 L56.0,158.5 L56.0,158.0 L56.0,157.5 L56.1,157.1 L56.1,156.6 L56.1,156.1 L56.1,155.7 L56.1,155.2 L56.1,154.7 L56.1,154.3 L56.1,153.8 L56.2,153.3 L56.2,152.9 L56.2,152.4 L56.2,151.9 L56.2,151.5 L56.2,151.0 L56.2,150.5 L56.3,150.1 L56.3,149.6 L56.3,149.1 L56.3,148.7 L56.3,148.2 L56.3,147.7 L56.4,147.3 L56.4,146.8 L56.4,146.4 L56.4,145.9 L56.4,145.4 L56.4,145.0 L56.5,144.5 L56.5,144.0 L56.5,143.6 L56.5,143.1 L56.5,142.7 L56.6,142.2 L56.6,141.7 L56.6,141.3 L56.6,140.8 L56.7,140.4 L56.7,139.9 L56.7,139.5 L56.7,139.0 L56.7,138.5 L56.8,138.1 L56.8,137.6 L56.8,137.2 L56.8,136.7 L56.9,136.2 L56.9,135.8 L56.9,135.3 L56.9,134.9 L57.0,134.4 L57.0,134.0 L57.0,133.5 L57.0,133.0 L57.1,132.6 L57.1,132.1 L57.1,131.7 L57.1,131.2 L57.2,130.8 L57.2,130.3 L57.2,129.9 L57.3,129.4 L57.3,128.9 L57.3,128.5 L57.3,128.0 L57.4,127.6 L57.4,127.1 L57.4,126.7 L57.5,126.2 L57.5,125.7 L57.5,125.3 L57.5,124.8 L57.6,124.4 L57.6,123.9 L57.6,123.5 L57.7,123.0 L57.7,122.6 L57.7,122.1 L57.8,121.7 L57.8,121.2 L57.8,120.7 L57.8,120.3 L57.9,119.8 L57.9,119.4 L57.9,118.9 L58.0,118.5 L58.0,118.0 L58.0,117.6 L58.1,117.1 L58.1,116.6 L58.1,116.2 L58.2,115.7 L58.2,115.3 L58.2,114.8 L58.3,114.4 L58.3,113.9 L58.3,113.4 L58.4,113.0 L58.4,112.5 L58.4,112.1 L58.5,111.6 L58.5,111.2 L58.5,110.7 L58.6,110.2 L58.6,109.8 L58.6,109.3 L58.7,108.9 L58.7,108.4 L58.7,108.0 L58.8,107.5 L58.8,107.0 L58.8,106.6 L58.9,106.1 L58.9,105.7 L58.9,105.2 L59.0,104.7 L59.0,104.3 L59.0,103.8 L59.1,103.4 L59.1,102.9 L59.2,102.4 L59.2,102.0 L59.2,101.5 L59.3,101.1 L59.3,100.6 L59.3,100.1 L59.4,99.7 L59.4,99.2 L59.4,98.8 L59.5,98.3 L59.5,97.8 L59.5,97.4 L59.6,96.9 L59.6,96.4 L59.6,96.0 L59.7,95.5 L59.7,95.1 L59.7,94.6 L59.8,94.1 L59.8,93.7 L59.9,93.2 L59.9,92.7 L59.9,92.3 L60.0,91.8 L60.0,91.3 L60.0,90.9 L60.1,90.4 L60.1,89.9 L60.1,89.5 L60.2,89.0 L60.2,88.5 L60.2,88.0 L60.3,87.6 L60.3,87.1 L60.3,86.6 L60.4,86.2 L60.4,85.7 L60.4,85.2 L60.5,84.7 L60.5,84.3 L60.5,83.8 L60.6,83.3 L60.6,82.9 L60.6,82.4 L60.7,81.9 L60.7,81.4 L60.7,81.0 L60.8,80.5 L60.8,80.0 L60.8,79.5 L60.9,79.0 L60.9,78.6 L60.9,78.1 L61.0,77.6 L61.0,77.1 L61.1,76.7 L61.1,76.2 L61.1,75.7 L61.2,75.2 L61.2,74.7 L61.2,74.3 L61.3,73.8 L61.3,73.3 L61.4,72.8 L61.4,72.4 L61.5,71.9 L61.5,71.4 L61.6,70.9 L61.6,70.5 L61.7,70.0 L61.7,69.5 L61.8,69.1 L61.9,68.6 L61.9,68.1 L62.0,67.7 L62.1,67.2 L62.2,66.8 L62.3,66.3 L62.3,65.8 L62.4,65.4 L62.5,64.9 L62.6,64.5 L62.7,64.0 L62.8,63.6 L62.9,63.1 L63.1,62.7 L63.2,62.3 L63.3,61.8 L63.4,61.4 L63.6,60.9 L63.7,60.5 L63.9,60.1 L64.0,59.7 L64.2,59.2 L64.3,58.8 L64.5,58.4 L64.7,58.0 L64.9,57.6 L65.0,57.2 L65.2,56.8 L65.4,56.4 L65.6,56.0 L65.9,55.6 L66.1,55.2 L66.3,54.8 L66.5,54.5 L66.8,54.1 L67.0,53.7 L67.3,53.3 L67.6,53.0 L67.8,52.6 L68.1,52.3 L68.4,51.9 L68.7,51.6 L69.0,51.2 L69.3,50.9 L69.6,50.6 L70.0,50.2 L70.3,49.9 L70.7,49.6 L71.0,49.3 L71.4,49.0 L71.8,48.7 L72.1,48.4 L72.5,48.2 L72.9,47.9 L73.3,47.7 L73.7,47.5 L74.1,47.3 L74.5,47.8 L74.9,48.1 L75.3,47.3 L75.7,46.6 L76.1,45.9 L76.5,45.8 L76.9,46.1 L77.4,46.5 L77.8,46.9 L78.2,46.9 L78.6,46.9 L79.0,46.9 L79.4,47.0 L79.8,47.4 L80.2,47.8 L80.6,48.2 L81.0,48.5 L81.4,48.9 L81.8,49.2 L82.2,49.3 L82.7,49.2 L83.1,49.2 L83.5,49.2 L83.9,49.3 L84.3,49.3 L84.7,49.4 L85.2,49.2 L85.6,48.9 L86.0,48.5 L86.4,48.3 L86.9,48.7 L87.3,49.0 L87.7,49.4 L88.2,49.2 L88.6,48.7 L89.0,48.3 L89.5,48.0 L89.9,48.1 L90.4,48.3 L90.8,48.4 L91.2,48.0 L91.7,47.6 L92.1,47.1 L92.6,46.9 L93.0,46.9 L93.5,46.9 L93.9,47.0 L94.3,47.3 L94.8,47.7 L95.2,47.9 L95.7,47.9 L96.1,47.9 L96.6,48.1 L97.0,48.2 L97.5,48.3 L97.9,48.2 L98.4,48.1 L98.8,48.0 L99.3,48.1 L99.7,48.5 L100.2,48.9 L100.6,49.3 L101.1,49.0 L101.5,48.6 L102.0,48.2 L102.4,48.1 L102.9,48.0 L103.3,48.0 L103.8,48.1 L104.2,48.5 L104.7,49.0 L105.1,49.4 L105.6,49.2 L106.0,49.1 L106.4,48.9 L106.9,49.3 L107.3,49.8 L107.8,50.2 L108.2,50.3 L108.7,50.0 L109.1,49.6 L109.6,49.4 L110.0,49.9 L110.5,50.5 L110.9,51.1 L111.3,51.1 L111.8,51.1 L112.2,51.0 L112.7,50.8 L113.1,50.5 L113.5,50.1 L114.0,49.9 L114.4,50.4 L114.8,50.8 L115.3,51.3 L115.7,51.5 L116.1,51.7 L116.6,51.8 L117.0,52.0 L117.4,52.3 L117.9,52.5 L118.3,52.8 L118.7,52.8 L119.1,52.7 L119.6,52.6 L120.0,52.6 L120.4,52.6 L120.8,52.6 L121.3,52.5 L121.7,52.4 L122.1,52.2 L122.5,52.0 L122.9,51.8 L123.3,51.4 L123.7,51.0 L124.2,50.6 L124.6,50.8 L125.0,51.2 L125.4,51.7 L125.8,52.2 L126.2,51.4 L126.6,50.7 L127.0,50.0 L127.4,49.7 L127.8,49.9 L128.2,50.1 L128.6,50.3 L129.0,50.1 L129.4,50.0 L129.8,49.8 L130.2,49.4 L130.6,48.9 L131.0,48.4 L131.4,47.9 L131.8,47.7 L132.3,47.5 L132.7,47.2 L133.1,47.2 L133.5,47.0 L133.9,45.8 L134.4,44.2 L134.8,42.6 L135.2,41.7 L135.7,42.3 L136.1,43.9 L136.5,44.2 L137.0,44.9 L137.4,45.9 L137.9,47.0 L138.3,47.5 L138.7,47.7 L139.2,47.9 L139.6,47.9 L140.1,47.8 L140.5,47.8 L141.0,47.7 L141.4,47.7 L141.9,47.6 L142.3,47.6 L142.8,48.0 L143.2,48.7 L143.7,49.3 L144.1,49.5 L144.6,49.3 L145.0,49.1 L145.5,48.8 L145.9,48.8 L146.4,48.7 L146.8,48.7 L147.3,48.9 L147.8,49.2 L148.2,49.5 L148.7,49.5 L149.1,49.4 L149.6,49.3 L150.0,49.4 L150.5,50.0 L151.0,50.5 L151.4,50.9 L151.9,50.7 L152.3,50.5 L152.8,50.3 L153.3,50.4 L153.7,50.6 L154.2,50.8 L154.7,51.1 L155.1,51.5 L155.6,51.9 L156.0,51.8 L156.5,51.3 L157.0,50.9 L157.4,50.6 L157.9,50.6 L158.4,50.5 L158.8,50.6 L159.3,51.3 L159.8,52.0 L160.2,52.7 L160.7,52.4 L161.1,52.2 L161.6,51.9 L162.1,52.1 L162.5,52.5 L163.0,52.8 L163.5,53.0 L163.9,53.0 L164.4,53.1 L164.9,53.0 L165.3,52.8 L165.8,52.7 L166.2,52.4 L166.7,51.9 L167.2,51.4 L167.6,50.8 L168.1,51.2 L168.5,51.6 L169.0,52.1 L169.5,52.1 L169.9,51.8 L170.4,51.6 L170.8,51.3 L171.3,51.2 L171.8,51.1 L172.2,51.0 L172.7,51.2 L173.1,51.3 L173.6,51.5 L174.1,51.4 L174.5,51.2 L175.0,51.1 L175.4,51.2 L175.9,51.6 L176.4,52.1 L176.8,52.4 L177.3,52.5 L177.7,52.6 L178.2,52.7 L178.6,51.9 L179.1,51.2 L179.6,50.4 L180.0,50.3 L180.5,50.4 L180.9,50.6 L181.4,50.6 L181.8,50.6 L182.3,50.6 L182.8,50.5 L183.2,50.4 L183.7,50.2 L184.1,50.1 L184.6,50.6 L185.0,51.2 L185.5,51.8 L186.0,51.7 L186.4,51.1 L186.9,50.5 L187.3,50.1 L187.8,50.2 L188.2,50.2 L188.7,50.3 L189.2,50.0 L189.6,49.7 L190.1,49.5 L190.5,49.5 L191.0,49.6 L191.4,49.8 L191.9,50.0 L192.4,50.4 L192.8,50.7 L193.3,50.4 L193.7,49.4 L194.2,47.5 L194.7,45.7 L195.1,44.8 L195.6,44.8 L196.0,46.1 L196.5,48.6 L196.9,48.2 L197.4,49.1 L197.9,49.7 L198.3,50.1 L198.8,50.5 L199.2,50.7 L199.7,50.6 L200.2,50.4 L200.6,50.2 L201.1,50.4 L201.5,51.0 L202.0,51.5 L202.5,51.7 L202.9,51.5 L203.4,51.2 L203.8,51.0 L204.3,51.0 L204.8,51.1 L205.2,51.1 L205.7,51.4 L206.1,51.8 L206.6,52.2 L207.1,52.3 L207.5,52.3 L208.0,52.4 L208.4,52.2 L208.9,51.7 L209.4,51.2 L209.8,50.7 L210.3,50.5 L210.7,50.4 L211.2,50.2 L211.6,50.6 L212.1,51.1 L212.5,51.6 L213.0,51.7 L213.5,51.3 L213.9,51.0 L214.4,50.7 L214.8,50.4 L215.3,50.2 L215.7,49.9 L216.2,49.9 L216.6,49.9 L217.1,49.9 L217.5,50.0 L218.0,50.2 L218.4,50.3 L218.8,50.4 L219.3,50.0 L219.7,49.7 L220.2,49.3 L220.6,49.3 L221.1,49.2 L221.5,49.1 L221.9,49.3 L222.4,49.6 L222.8,49.8" fill="none" stroke="#18A84A" stroke-width="3.7" stroke-linejoin="round" stroke-linecap="butt"/>
<g stroke-width="3.5">
<line x1="239.9" y1="83.8" x2="257.6" y2="83.8" stroke="#FFA726"/>
<line x1="239.9" y1="95.2" x2="257.6" y2="95.2" stroke="#FF6E40"/>
<line x1="239.9" y1="106.6" x2="257.6" y2="106.6" stroke="#5C6BC0"/>
<line x1="239.9" y1="118.0" x2="257.6" y2="118.0" stroke="#1976D2"/>
<line x1="239.9" y1="129.6" x2="257.6" y2="129.6" stroke="#18A84A"/>
</g>
<line x1="614.7" y1="154.8" x2="627.7" y2="153.0" stroke="#ffe595" stroke-width="1.0"/>
<line x1="627.7" y1="153.0" x2="619.2" y2="148.4" stroke="#ffe492" stroke-width="1.0"/>
<line x1="619.2" y1="148.4" x2="607.4" y2="144.1" stroke="#ffe390" stroke-width="1.0"/>
<line x1="607.4" y1="144.1" x2="587.3" y2="139.3" stroke="#ffe28c" stroke-width="1.0"/>
<line x1="587.3" y1="139.3" x2="581.5" y2="134.4" stroke="#ffe18a" stroke-width="1.0"/>
<line x1="581.5" y1="134.4" x2="571.0" y2="130.5" stroke="#ffe087" stroke-width="1.0"/>
<line x1="571.0" y1="130.5" x2="570.7" y2="125.7" stroke="#ffe085" stroke-width="1.0"/>
<line x1="570.7" y1="125.7" x2="575.7" y2="120.8" stroke="#ffe081" stroke-width="1.0"/>
<line x1="575.7" y1="120.8" x2="582.7" y2="117.0" stroke="#ffdf7f" stroke-width="1.0"/>
<line x1="582.7" y1="117.0" x2="584.0" y2="112.8" stroke="#ffde7c" stroke-width="1.0"/>
<line x1="584.0" y1="112.8" x2="587.1" y2="109.0" stroke="#ffde7a" stroke-width="1.0"/>
<line x1="587.1" y1="109.0" x2="581.7" y2="104.8" stroke="#ffdd78" stroke-width="1.0"/>
<line x1="581.7" y1="104.8" x2="578.0" y2="101.8" stroke="#ffdd75" stroke-width="1.0"/>
<line x1="578.0" y1="101.8" x2="578.9" y2="99.1" stroke="#ffdc73" stroke-width="1.0"/>
<line x1="578.9" y1="99.1" x2="576.0" y2="96.1" stroke="#ffdc71" stroke-width="1.0"/>
<line x1="576.0" y1="96.1" x2="568.8" y2="93.4" stroke="#ffdc6e" stroke-width="1.0"/>
<line x1="568.8" y1="93.4" x2="575.7" y2="91.0" stroke="#ffdb6d" stroke-width="1.0"/>
<line x1="575.7" y1="91.0" x2="571.4" y2="88.0" stroke="#ffdb6a" stroke-width="1.0"/>
<line x1="571.4" y1="88.0" x2="574.8" y2="83.6" stroke="#ffda67" stroke-width="1.0"/>
<line x1="574.8" y1="83.6" x2="577.0" y2="80.0" stroke="#ffda63" stroke-width="1.0"/>
<line x1="577.0" y1="80.0" x2="575.0" y2="76.5" stroke="#ffd95f" stroke-width="1.0"/>
<line x1="575.0" y1="76.5" x2="569.4" y2="75.4" stroke="#ffd75b" stroke-width="1.0"/>
<line x1="569.4" y1="75.4" x2="561.7" y2="73.5" stroke="#ffd658" stroke-width="1.0"/>
<line x1="561.7" y1="73.5" x2="559.8" y2="69.7" stroke="#ffd554" stroke-width="1.0"/>
<line x1="559.8" y1="69.7" x2="561.2" y2="65.0" stroke="#ffd450" stroke-width="1.0"/>
<line x1="561.2" y1="65.0" x2="561.7" y2="61.8" stroke="#ffd34c" stroke-width="1.0"/>
<circle cx="614.7" cy="154.8" r="2.1" fill="#ffe082"/>
<circle cx="627.7" cy="153.0" r="2.1" fill="#ffdf7f"/>
<circle cx="619.2" cy="148.4" r="2.1" fill="#ffde7c"/>
<circle cx="607.4" cy="144.1" r="2.1" fill="#ffdd78"/>
<circle cx="587.3" cy="139.3" r="2.1" fill="#ffdc75"/>
<circle cx="581.5" cy="134.4" r="2.1" fill="#ffdb72"/>
<circle cx="571.0" cy="130.5" r="2.1" fill="#ffda6f"/>
<circle cx="570.7" cy="125.7" r="2.1" fill="#ffda6b"/>
<circle cx="575.7" cy="120.8" r="2.1" fill="#ffd968"/>
<circle cx="582.7" cy="117.0" r="2.1" fill="#ffd865"/>
<circle cx="584.0" cy="112.8" r="2.1" fill="#ffd862"/>
<circle cx="587.1" cy="109.0" r="2.1" fill="#ffd760"/>
<circle cx="581.7" cy="104.8" r="2.1" fill="#ffd75d"/>
<circle cx="578.0" cy="101.8" r="2.1" fill="#ffd65a"/>
<circle cx="578.9" cy="99.1" r="2.1" fill="#ffd658"/>
<circle cx="576.0" cy="96.1" r="2.1" fill="#ffd655"/>
<circle cx="568.8" cy="93.4" r="2.1" fill="#ffd553"/>
<circle cx="575.7" cy="91.0" r="2.1" fill="#ffd550"/>
<circle cx="571.4" cy="88.0" r="2.1" fill="#ffd44c"/>
<circle cx="574.8" cy="83.6" r="2.1" fill="#ffd348"/>
<circle cx="577.0" cy="80.0" r="2.1" fill="#ffd243"/>
<circle cx="575.0" cy="76.5" r="2.1" fill="#ffd03e"/>
<circle cx="569.4" cy="75.4" r="2.1" fill="#ffcf3a"/>
<circle cx="561.7" cy="73.5" r="2.1" fill="#ffce36"/>
<circle cx="559.8" cy="69.7" r="2.1" fill="#ffcd31"/>
<circle cx="561.2" cy="65.0" r="2.1" fill="#ffcb2c"/>
<circle cx="561.7" cy="61.8" r="2.1" fill="#ffca28"/>
<line x1="502.6" y1="154.5" x2="528.9" y2="149.6" stroke="#cee6b2" stroke-width="1.0"/>
<line x1="528.9" y1="149.6" x2="532.4" y2="144.9" stroke="#cce5b1" stroke-width="1.0"/>
<line x1="532.4" y1="144.9" x2="542.9" y2="139.6" stroke="#cbe5ae" stroke-width="1.0"/>
<line x1="542.9" y1="139.6" x2="538.9" y2="135.3" stroke="#c9e4ad" stroke-width="1.0"/>
<line x1="538.9" y1="135.3" x2="537.6" y2="130.6" stroke="#c8e3ab" stroke-width="1.0"/>
<line x1="537.6" y1="130.6" x2="539.9" y2="125.7" stroke="#c7e2a8" stroke-width="1.0"/>
<line x1="539.9" y1="125.7" x2="544.7" y2="121.9" stroke="#c5e2a7" stroke-width="1.0"/>
<line x1="544.7" y1="121.9" x2="544.1" y2="118.5" stroke="#c4e1a4" stroke-width="1.0"/>
<line x1="544.1" y1="118.5" x2="547.5" y2="114.7" stroke="#c3e0a2" stroke-width="1.0"/>
<line x1="547.5" y1="114.7" x2="551.0" y2="111.3" stroke="#c1e0a1" stroke-width="1.0"/>
<line x1="551.0" y1="111.3" x2="549.0" y2="108.1" stroke="#c0e09e" stroke-width="1.0"/>
<line x1="549.0" y1="108.1" x2="545.6" y2="104.8" stroke="#bedf9c" stroke-width="1.0"/>
<line x1="545.6" y1="104.8" x2="549.0" y2="101.8" stroke="#bedf9c" stroke-width="1.0"/>
<line x1="549.0" y1="101.8" x2="554.2" y2="99.5" stroke="#bede9b" stroke-width="1.0"/>
<line x1="554.2" y1="99.5" x2="558.0" y2="96.7" stroke="#bede9a" stroke-width="1.0"/>
<line x1="558.0" y1="96.7" x2="556.1" y2="93.8" stroke="#bdde99" stroke-width="1.0"/>
<line x1="556.1" y1="93.8" x2="556.1" y2="91.0" stroke="#bddd98" stroke-width="1.0"/>
<line x1="556.1" y1="91.0" x2="551.0" y2="85.8" stroke="#bcdd98" stroke-width="1.0"/>
<line x1="551.0" y1="85.8" x2="545.8" y2="84.1" stroke="#bcdc97" stroke-width="1.0"/>
<line x1="545.8" y1="84.1" x2="540.7" y2="82.4" stroke="#bbdc96" stroke-width="1.0"/>
<line x1="540.7" y1="82.4" x2="535.5" y2="76.4" stroke="#bbdc96" stroke-width="1.0"/>
<line x1="535.5" y1="76.4" x2="525.3" y2="74.7" stroke="#badb95" stroke-width="1.0"/>
<line x1="525.3" y1="74.7" x2="540.7" y2="71.3" stroke="#badb94" stroke-width="1.0"/>
<line x1="540.7" y1="71.3" x2="546.7" y2="67.8" stroke="#b8da91" stroke-width="1.0"/>
<line x1="546.7" y1="67.8" x2="549.2" y2="64.4" stroke="#b8da90" stroke-width="1.0"/>
<line x1="549.2" y1="64.4" x2="551.8" y2="63.6" stroke="#b6da8d" stroke-width="1.0"/>
<line x1="551.8" y1="63.6" x2="541.5" y2="67.0" stroke="#b4d98b" stroke-width="1.0"/>
<line x1="541.5" y1="67.0" x2="526.1" y2="60.1" stroke="#b3d889" stroke-width="1.0"/>
<line x1="526.1" y1="60.1" x2="518.4" y2="57.6" stroke="#b2d787" stroke-width="1.0"/>
<line x1="518.4" y1="57.6" x2="515.2" y2="54.3" stroke="#b1d685" stroke-width="1.0"/>
<line x1="515.2" y1="54.3" x2="514.3" y2="49.6" stroke="#afd583" stroke-width="1.0"/>
<line x1="514.3" y1="49.6" x2="525.0" y2="50.0" stroke="#add580" stroke-width="1.0"/>
<line x1="525.0" y1="50.0" x2="537.7" y2="47.7" stroke="#add47f" stroke-width="1.0"/>
<circle cx="502.6" cy="154.5" r="2.1" fill="#c5e1a5"/>
<circle cx="528.9" cy="149.6" r="2.1" fill="#c3e0a3"/>
<circle cx="532.4" cy="144.9" r="2.1" fill="#c2e0a0"/>
<circle cx="542.9" cy="139.6" r="2.1" fill="#c0df9e"/>
<circle cx="538.9" cy="135.3" r="2.1" fill="#bede9c"/>
<circle cx="537.6" cy="130.6" r="2.1" fill="#bddd99"/>
<circle cx="539.9" cy="125.7" r="2.1" fill="#bbdd97"/>
<circle cx="544.7" cy="121.9" r="2.1" fill="#badc94"/>
<circle cx="544.1" cy="118.5" r="2.1" fill="#b8db92"/>
<circle cx="547.5" cy="114.7" r="2.1" fill="#b6da90"/>
<circle cx="551.0" cy="111.3" r="2.1" fill="#b5da8d"/>
<circle cx="549.0" cy="108.1" r="2.1" fill="#b3d98b"/>
<circle cx="545.6" cy="104.8" r="2.1" fill="#b3d98a"/>
<circle cx="549.0" cy="101.8" r="2.1" fill="#b2d889"/>
<circle cx="554.2" cy="99.5" r="2.1" fill="#b2d888"/>
<circle cx="558.0" cy="96.7" r="2.1" fill="#b1d887"/>
<circle cx="556.1" cy="93.8" r="2.1" fill="#b1d786"/>
<circle cx="556.1" cy="91.0" r="2.1" fill="#b0d786"/>
<circle cx="551.0" cy="85.8" r="2.1" fill="#b0d685"/>
<circle cx="545.8" cy="84.1" r="2.1" fill="#afd684"/>
<circle cx="540.7" cy="82.4" r="2.1" fill="#afd683"/>
<circle cx="535.5" cy="76.4" r="2.1" fill="#aed582"/>
<circle cx="525.3" cy="74.7" r="2.1" fill="#aed581"/>
<circle cx="540.7" cy="71.3" r="2.1" fill="#acd47e"/>
<circle cx="546.7" cy="67.8" r="2.1" fill="#abd37c"/>
<circle cx="549.2" cy="64.4" r="2.1" fill="#a9d379"/>
<circle cx="551.8" cy="63.6" r="2.1" fill="#a7d277"/>
<circle cx="541.5" cy="67.0" r="2.1" fill="#a6d174"/>
<circle cx="526.1" cy="60.1" r="2.1" fill="#a4d072"/>
<circle cx="518.4" cy="57.6" r="2.1" fill="#a3cf6f"/>
<circle cx="515.2" cy="54.3" r="2.1" fill="#a1ce6d"/>
<circle cx="514.3" cy="49.6" r="2.1" fill="#9fce6a"/>
<circle cx="525.0" cy="50.0" r="2.1" fill="#9ecd68"/>
<circle cx="537.7" cy="47.7" r="2.1" fill="#9ccc65"/>
<circle cx="539.2" cy="67.1" r="2.1" fill="#b5d98f"/>
<circle cx="541.8" cy="70.5" r="2.1" fill="#aed581"/>
<circle cx="546.0" cy="67.1" r="2.1" fill="#a5d175"/>
<circle cx="548.6" cy="64.5" r="2.1" fill="#aed581"/>
<circle cx="540.0" cy="80.8" r="2.1" fill="#b5d98f"/>
<circle cx="541.8" cy="82.5" r="2.1" fill="#aed581"/>
<circle cx="546.0" cy="83.3" r="2.1" fill="#b5d98f"/>
<circle cx="551.2" cy="85.9" r="2.1" fill="#b8db93"/>
<circle cx="554.6" cy="88.5" r="2.1" fill="#bcdc98"/>
<circle cx="534.9" cy="76.5" r="2.1" fill="#a5d175"/>
<circle cx="536.5" cy="79.0" r="2.1" fill="#aed581"/>
<circle cx="544.0" cy="69.0" r="2.1" fill="#a5d175"/>
<circle cx="538.0" cy="74.0" r="2.1" fill="#aed581"/>
<line x1="440.9" y1="154.7" x2="440.9" y2="150.0" stroke="#a9e1fa" stroke-width="1.0"/>
<line x1="440.9" y1="150.0" x2="445.6" y2="145.6" stroke="#a7e0fa" stroke-width="1.0"/>
<line x1="445.6" y1="145.6" x2="449.8" y2="141.0" stroke="#a5e0fa" stroke-width="1.0"/>
<line x1="449.8" y1="141.0" x2="454.2" y2="137.2" stroke="#a3e0fa" stroke-width="1.0"/>
<line x1="454.2" y1="137.2" x2="460.5" y2="132.8" stroke="#a2dffa" stroke-width="1.0"/>
<line x1="460.5" y1="132.8" x2="466.2" y2="129.0" stroke="#9fdefa" stroke-width="1.0"/>
<line x1="466.2" y1="129.0" x2="469.8" y2="125.2" stroke="#9ddefb" stroke-width="1.0"/>
<line x1="469.8" y1="125.2" x2="471.3" y2="121.4" stroke="#9cddfb" stroke-width="1.0"/>
<line x1="471.3" y1="121.4" x2="475.5" y2="118.1" stroke="#99dcfb" stroke-width="1.0"/>
<line x1="475.5" y1="118.1" x2="482.4" y2="114.7" stroke="#97dbfb" stroke-width="1.0"/>
<line x1="482.4" y1="114.7" x2="481.2" y2="111.9" stroke="#96dafb" stroke-width="1.0"/>
<line x1="481.2" y1="111.9" x2="484.3" y2="109.0" stroke="#92dafb" stroke-width="1.0"/>
<line x1="484.3" y1="109.0" x2="495.1" y2="106.2" stroke="#8fd9fb" stroke-width="1.0"/>
<line x1="495.1" y1="106.2" x2="502.1" y2="103.7" stroke="#8bd7fa" stroke-width="1.0"/>
<line x1="502.1" y1="103.7" x2="498.3" y2="100.5" stroke="#86d6fa" stroke-width="1.0"/>
<line x1="498.3" y1="100.5" x2="503.7" y2="97.6" stroke="#83d4fa" stroke-width="1.0"/>
<line x1="503.7" y1="97.6" x2="503.3" y2="95.7" stroke="#7fd4f9" stroke-width="1.0"/>
<line x1="503.3" y1="95.7" x2="498.3" y2="92.9" stroke="#7ad2f9" stroke-width="1.0"/>
<line x1="498.3" y1="92.9" x2="499.0" y2="91.0" stroke="#77d0f9" stroke-width="1.0"/>
<line x1="499.0" y1="91.0" x2="508.5" y2="89.1" stroke="#73cff9" stroke-width="1.0"/>
<line x1="508.5" y1="89.1" x2="519.6" y2="86.3" stroke="#6ecef8" stroke-width="1.0"/>
<line x1="519.6" y1="86.3" x2="531.3" y2="84.1" stroke="#6bcdf8" stroke-width="1.0"/>
<line x1="531.3" y1="84.1" x2="530.4" y2="80.7" stroke="#68cbf8" stroke-width="1.0"/>
<line x1="530.4" y1="80.7" x2="534.7" y2="79.8" stroke="#64caf8" stroke-width="1.0"/>
<line x1="534.7" y1="79.8" x2="532.1" y2="75.5" stroke="#62c9f8" stroke-width="1.0"/>
<line x1="532.1" y1="75.5" x2="527.0" y2="73.8" stroke="#5ec9f8" stroke-width="1.0"/>
<line x1="527.0" y1="73.8" x2="532.1" y2="71.3" stroke="#5bc7f8" stroke-width="1.0"/>
<line x1="532.1" y1="71.3" x2="528.7" y2="67.8" stroke="#58c6f7" stroke-width="1.0"/>
<line x1="528.7" y1="67.8" x2="534.7" y2="64.4" stroke="#55c5f7" stroke-width="1.0"/>
<line x1="534.7" y1="64.4" x2="535.5" y2="61.0" stroke="#52c4f7" stroke-width="1.0"/>
<line x1="535.5" y1="61.0" x2="540.7" y2="59.3" stroke="#4fc3f7" stroke-width="1.0"/>
<line x1="540.7" y1="59.3" x2="538.1" y2="56.7" stroke="#4cc2f7" stroke-width="1.0"/>
<line x1="538.1" y1="56.7" x2="545.0" y2="60.5" stroke="#49c1f7" stroke-width="1.0"/>
<line x1="545.0" y1="60.5" x2="541.0" y2="58.5" stroke="#49c1f7" stroke-width="1.0"/>
<line x1="541.0" y1="58.5" x2="536.0" y2="59.0" stroke="#47c0f7" stroke-width="1.0"/>
<line x1="536.0" y1="59.0" x2="531.0" y2="57.0" stroke="#47c0f7" stroke-width="1.0"/>
<line x1="531.0" y1="57.0" x2="526.0" y2="55.5" stroke="#45bff7" stroke-width="1.0"/>
<line x1="526.0" y1="55.5" x2="530.0" y2="53.0" stroke="#43bff7" stroke-width="1.0"/>
<line x1="530.0" y1="53.0" x2="536.0" y2="52.0" stroke="#42bef7" stroke-width="1.0"/>
<line x1="536.0" y1="52.0" x2="542.0" y2="54.5" stroke="#41bef6" stroke-width="1.0"/>
<line x1="542.0" y1="54.5" x2="548.0" y2="55.0" stroke="#3fbef6" stroke-width="1.0"/>
<line x1="548.0" y1="55.0" x2="553.0" y2="54.0" stroke="#3ebdf6" stroke-width="1.0"/>
<line x1="553.0" y1="54.0" x2="556.3" y2="54.5" stroke="#3cbdf6" stroke-width="1.0"/>
<line x1="556.3" y1="54.5" x2="550.0" y2="51.0" stroke="#3bbcf6" stroke-width="1.0"/>
<line x1="550.0" y1="51.0" x2="544.0" y2="50.0" stroke="#3abcf6" stroke-width="1.0"/>
<line x1="544.0" y1="50.0" x2="538.0" y2="48.5" stroke="#38bbf6" stroke-width="1.0"/>
<line x1="538.0" y1="48.5" x2="532.0" y2="49.5" stroke="#36bbf6" stroke-width="1.0"/>
<line x1="532.0" y1="49.5" x2="527.0" y2="51.0" stroke="#36baf6" stroke-width="1.0"/>
<line x1="527.0" y1="51.0" x2="522.0" y2="52.5" stroke="#34b9f6" stroke-width="1.0"/>
<line x1="522.0" y1="52.5" x2="525.0" y2="48.0" stroke="#32b9f6" stroke-width="1.0"/>
<line x1="525.0" y1="48.0" x2="531.0" y2="46.0" stroke="#30b8f6" stroke-width="1.0"/>
<line x1="531.0" y1="46.0" x2="537.0" y2="45.5" stroke="#30b8f6" stroke-width="1.0"/>
<line x1="537.0" y1="45.5" x2="543.0" y2="46.5" stroke="#2eb8f6" stroke-width="1.0"/>
<line x1="543.0" y1="46.5" x2="548.0" y2="47.5" stroke="#2cb8f6" stroke-width="1.0"/>
<line x1="548.0" y1="47.5" x2="553.0" y2="48.0" stroke="#2bb7f6" stroke-width="1.0"/>
<line x1="553.0" y1="48.0" x2="556.0" y2="50.0" stroke="#2ab6f6" stroke-width="1.0"/>
<line x1="556.0" y1="50.0" x2="530.3" y2="46.7" stroke="#29b6f6" stroke-width="1.0"/>
<line x1="530.3" y1="46.7" x2="530.2" y2="49.6" stroke="#29b5f5" stroke-width="1.0"/>
<line x1="530.2" y1="49.6" x2="532.9" y2="49.9" stroke="#29b5f4" stroke-width="1.0"/>
<line x1="532.9" y1="49.9" x2="532.8" y2="51.1" stroke="#29b4f4" stroke-width="1.0"/>
<line x1="532.8" y1="51.1" x2="529.5" y2="52.4" stroke="#29b3f3" stroke-width="1.0"/>
<line x1="529.5" y1="52.4" x2="527.6" y2="52.1" stroke="#29b3f2" stroke-width="1.0"/>
<line x1="527.6" y1="52.1" x2="527.2" y2="53.6" stroke="#29b2f2" stroke-width="1.0"/>
<line x1="527.2" y1="53.6" x2="527.0" y2="56.3" stroke="#29b2f1" stroke-width="1.0"/>
<line x1="527.0" y1="56.3" x2="529.3" y2="56.2" stroke="#29b2f1" stroke-width="1.0"/>
<line x1="529.3" y1="56.2" x2="530.8" y2="54.7" stroke="#29b1f1" stroke-width="1.0"/>
<line x1="530.8" y1="54.7" x2="532.3" y2="57.0" stroke="#29b1f0" stroke-width="1.0"/>
<line x1="532.3" y1="57.0" x2="533.7" y2="58.8" stroke="#29b0ef" stroke-width="1.0"/>
<line x1="533.7" y1="58.8" x2="535.6" y2="57.1" stroke="#29afef" stroke-width="1.0"/>
<line x1="535.6" y1="57.1" x2="536.7" y2="54.6" stroke="#29afee" stroke-width="1.0"/>
<line x1="536.7" y1="54.6" x2="538.5" y2="56.3" stroke="#29aeee" stroke-width="1.0"/>
<line x1="538.5" y1="56.3" x2="539.3" y2="54.3" stroke="#29aeed" stroke-width="1.0"/>
<line x1="539.3" y1="54.3" x2="541.9" y2="54.0" stroke="#29adec" stroke-width="1.0"/>
<line x1="541.9" y1="54.0" x2="545.4" y2="54.5" stroke="#29adec" stroke-width="1.0"/>
<line x1="545.4" y1="54.5" x2="544.6" y2="57.2" stroke="#29adeb" stroke-width="1.0"/>
<line x1="544.6" y1="57.2" x2="545.0" y2="58.4" stroke="#29aceb" stroke-width="1.0"/>
<line x1="545.0" y1="58.4" x2="542.3" y2="58.6" stroke="#29abeb" stroke-width="1.0"/>
<line x1="542.3" y1="58.6" x2="539.7" y2="59.4" stroke="#29abea" stroke-width="1.0"/>
<line x1="539.7" y1="59.4" x2="548.4" y2="57.2" stroke="#29aae9" stroke-width="1.0"/>
<line x1="548.4" y1="57.2" x2="548.4" y2="54.7" stroke="#29aae9" stroke-width="1.0"/>
<line x1="548.4" y1="54.7" x2="547.8" y2="51.9" stroke="#29aae9" stroke-width="1.0"/>
<line x1="547.8" y1="51.9" x2="545.6" y2="51.3" stroke="#29aae8" stroke-width="1.0"/>
<line x1="545.6" y1="51.3" x2="542.5" y2="50.0" stroke="#29aae8" stroke-width="1.0"/>
<line x1="542.5" y1="50.0" x2="539.0" y2="47.6" stroke="#29a9e8" stroke-width="1.0"/>
<line x1="539.0" y1="47.6" x2="536.6" y2="46.4" stroke="#29a9e8" stroke-width="1.0"/>
<line x1="536.6" y1="46.4" x2="524.5" y2="49.8" stroke="#29a9e8" stroke-width="1.0"/>
<line x1="524.5" y1="49.8" x2="520.9" y2="49.5" stroke="#29a9e7" stroke-width="1.0"/>
<line x1="520.9" y1="49.5" x2="521.5" y2="51.7" stroke="#29a9e7" stroke-width="1.0"/>
<line x1="521.5" y1="51.7" x2="520.3" y2="54.4" stroke="#29a9e7" stroke-width="1.0"/>
<line x1="520.3" y1="54.4" x2="520.5" y2="56.3" stroke="#29a9e7" stroke-width="1.0"/>
<line x1="520.5" y1="56.3" x2="518.0" y2="56.2" stroke="#29a8e6" stroke-width="1.0"/>
<line x1="518.0" y1="56.2" x2="551.1" y2="56.0" stroke="#29a8e6" stroke-width="1.0"/>
<line x1="551.1" y1="56.0" x2="553.7" y2="53.8" stroke="#29a8e6" stroke-width="1.0"/>
<line x1="553.7" y1="53.8" x2="556.5" y2="52.3" stroke="#29a8e6" stroke-width="1.0"/>
<line x1="556.5" y1="52.3" x2="556.8" y2="49.0" stroke="#29a8e6" stroke-width="1.0"/>
<line x1="556.8" y1="49.0" x2="553.7" y2="49.9" stroke="#29a8e6" stroke-width="1.0"/>
<line x1="553.7" y1="49.9" x2="551.0" y2="51.8" stroke="#29a8e6" stroke-width="1.0"/>
<line x1="551.0" y1="51.8" x2="550.9" y2="47.3" stroke="#29a8e6" stroke-width="1.0"/>
<line x1="550.9" y1="47.3" x2="560.3" y2="52.5" stroke="#29a7e6" stroke-width="1.0"/>
<line x1="560.3" y1="52.5" x2="563.5" y2="51.1" stroke="#29a7e5" stroke-width="1.0"/>
<line x1="563.5" y1="51.1" x2="557.2" y2="58.8" stroke="#29a7e5" stroke-width="1.0"/>
<circle cx="440.9" cy="154.7" r="2.1" fill="#9adcf9"/>
<circle cx="440.9" cy="150.0" r="2.1" fill="#98dbf9"/>
<circle cx="445.6" cy="145.6" r="2.1" fill="#95daf9"/>
<circle cx="449.8" cy="141.0" r="2.1" fill="#93daf9"/>
<circle cx="454.2" cy="137.2" r="2.1" fill="#91d9f9"/>
<circle cx="460.5" cy="132.8" r="2.1" fill="#8ed8f9"/>
<circle cx="466.2" cy="129.0" r="2.1" fill="#8cd8fa"/>
<circle cx="469.8" cy="125.2" r="2.1" fill="#8ad7fa"/>
<circle cx="471.3" cy="121.4" r="2.1" fill="#87d6fa"/>
<circle cx="475.5" cy="118.1" r="2.1" fill="#85d5fa"/>
<circle cx="482.4" cy="114.7" r="2.1" fill="#83d4fa"/>
<circle cx="481.2" cy="111.9" r="2.1" fill="#7fd3fa"/>
<circle cx="484.3" cy="109.0" r="2.1" fill="#7bd2fa"/>
<circle cx="495.1" cy="106.2" r="2.1" fill="#76d0f9"/>
<circle cx="502.1" cy="103.7" r="2.1" fill="#71cff9"/>
<circle cx="498.3" cy="100.5" r="2.1" fill="#6dcdf9"/>
<circle cx="503.7" cy="97.6" r="2.1" fill="#68ccf8"/>
<circle cx="503.3" cy="95.7" r="2.1" fill="#63caf8"/>
<circle cx="498.3" cy="92.9" r="2.1" fill="#5fc8f8"/>
<circle cx="499.0" cy="91.0" r="2.1" fill="#5ac7f8"/>
<circle cx="508.5" cy="89.1" r="2.1" fill="#55c5f7"/>
<circle cx="519.6" cy="86.3" r="2.1" fill="#51c4f7"/>
<circle cx="531.3" cy="84.1" r="2.1" fill="#4dc2f7"/>
<circle cx="530.4" cy="80.7" r="2.1" fill="#49c1f7"/>
<circle cx="534.7" cy="79.8" r="2.1" fill="#46c0f7"/>
<circle cx="532.1" cy="75.5" r="2.1" fill="#42bff7"/>
<circle cx="527.0" cy="73.8" r="2.1" fill="#3ebdf7"/>
<circle cx="532.1" cy="71.3" r="2.1" fill="#3bbcf6"/>
<circle cx="528.7" cy="67.8" r="2.1" fill="#37bbf6"/>
<circle cx="534.7" cy="64.4" r="2.1" fill="#34baf6"/>
<circle cx="535.5" cy="61.0" r="2.1" fill="#30b8f6"/>
<circle cx="540.7" cy="59.3" r="2.1" fill="#2db7f6"/>
<circle cx="538.1" cy="56.7" r="2.1" fill="#29b6f6"/>
<circle cx="545.0" cy="60.5" r="2.1" fill="#29b6f6"/>
<circle cx="541.0" cy="58.5" r="2.1" fill="#27b5f6"/>
<circle cx="536.0" cy="59.0" r="2.1" fill="#26b5f6"/>
<circle cx="531.0" cy="57.0" r="2.1" fill="#24b4f6"/>
<circle cx="526.0" cy="55.5" r="2.1" fill="#22b4f6"/>
<circle cx="530.0" cy="53.0" r="2.1" fill="#21b3f6"/>
<circle cx="536.0" cy="52.0" r="2.1" fill="#1fb3f5"/>
<circle cx="542.0" cy="54.5" r="2.1" fill="#1db2f5"/>
<circle cx="548.0" cy="55.0" r="2.1" fill="#1cb1f5"/>
<circle cx="553.0" cy="54.0" r="2.1" fill="#1ab1f5"/>
<circle cx="556.3" cy="54.5" r="2.1" fill="#18b0f5"/>
<circle cx="550.0" cy="51.0" r="2.1" fill="#17b0f5"/>
<circle cx="544.0" cy="50.0" r="2.1" fill="#15aff5"/>
<circle cx="538.0" cy="48.5" r="2.1" fill="#13aff5"/>
<circle cx="532.0" cy="49.5" r="2.1" fill="#12aef5"/>
<circle cx="527.0" cy="51.0" r="2.1" fill="#10adf5"/>
<circle cx="522.0" cy="52.5" r="2.1" fill="#0eadf5"/>
<circle cx="525.0" cy="48.0" r="2.1" fill="#0cacf4"/>
<circle cx="531.0" cy="46.0" r="2.1" fill="#0bacf4"/>
<circle cx="537.0" cy="45.5" r="2.1" fill="#09abf4"/>
<circle cx="543.0" cy="46.5" r="2.1" fill="#07abf4"/>
<circle cx="548.0" cy="47.5" r="2.1" fill="#06aaf4"/>
<circle cx="553.0" cy="48.0" r="2.1" fill="#04a9f4"/>
<circle cx="556.0" cy="50.0" r="2.1" fill="#03a9f4"/>
<circle cx="530.3" cy="46.7" r="2.1" fill="#03a8f3"/>
<circle cx="530.2" cy="49.6" r="2.1" fill="#03a8f2"/>
<circle cx="532.9" cy="49.9" r="2.1" fill="#03a7f2"/>
<circle cx="532.8" cy="51.1" r="2.1" fill="#03a6f1"/>
<circle cx="529.5" cy="52.4" r="2.1" fill="#03a6f0"/>
<circle cx="527.6" cy="52.1" r="2.1" fill="#03a5f0"/>
<circle cx="527.2" cy="53.6" r="2.1" fill="#03a4ef"/>
<circle cx="527.0" cy="56.3" r="2.1" fill="#03a4ee"/>
<circle cx="529.3" cy="56.2" r="2.1" fill="#03a3ee"/>
<circle cx="530.8" cy="54.7" r="2.1" fill="#03a3ed"/>
<circle cx="532.3" cy="57.0" r="2.1" fill="#03a2ec"/>
<circle cx="533.7" cy="58.8" r="2.1" fill="#03a1ec"/>
<circle cx="535.6" cy="57.1" r="2.1" fill="#03a1eb"/>
<circle cx="536.7" cy="54.6" r="2.1" fill="#03a0eb"/>
<circle cx="538.5" cy="56.3" r="2.1" fill="#03a0ea"/>
<circle cx="539.3" cy="54.3" r="2.1" fill="#039fe9"/>
<circle cx="541.9" cy="54.0" r="2.1" fill="#039ee9"/>
<circle cx="545.4" cy="54.5" r="2.1" fill="#039ee8"/>
<circle cx="544.6" cy="57.2" r="2.1" fill="#039de7"/>
<circle cx="545.0" cy="58.4" r="2.1" fill="#039ce7"/>
<circle cx="542.3" cy="58.6" r="2.1" fill="#039ce6"/>
<circle cx="539.7" cy="59.4" r="2.1" fill="#039be5"/>
<circle cx="548.4" cy="57.2" r="2.1" fill="#039be5"/>
<circle cx="548.4" cy="54.7" r="2.1" fill="#039be5"/>
<circle cx="547.8" cy="51.9" r="2.1" fill="#039be4"/>
<circle cx="545.6" cy="51.3" r="2.1" fill="#039be4"/>
<circle cx="542.5" cy="50.0" r="2.1" fill="#039ae4"/>
<circle cx="539.0" cy="47.6" r="2.1" fill="#039ae4"/>
<circle cx="536.6" cy="46.4" r="2.1" fill="#039ae4"/>
<circle cx="524.5" cy="49.8" r="2.1" fill="#039ae3"/>
<circle cx="520.9" cy="49.5" r="2.1" fill="#039ae3"/>
<circle cx="521.5" cy="51.7" r="2.1" fill="#039ae3"/>
<circle cx="520.3" cy="54.4" r="2.1" fill="#039ae3"/>
<circle cx="520.5" cy="56.3" r="2.1" fill="#0399e2"/>
<circle cx="518.0" cy="56.2" r="2.1" fill="#0399e2"/>
<circle cx="551.1" cy="56.0" r="2.1" fill="#0399e2"/>
<circle cx="553.7" cy="53.8" r="2.1" fill="#0399e2"/>
<circle cx="556.5" cy="52.3" r="2.1" fill="#0399e2"/>
<circle cx="556.8" cy="49.0" r="2.1" fill="#0399e1"/>
<circle cx="553.7" cy="49.9" r="2.1" fill="#0399e1"/>
<circle cx="551.0" cy="51.8" r="2.1" fill="#0399e1"/>
<circle cx="550.9" cy="47.3" r="2.1" fill="#0398e1"/>
<circle cx="560.3" cy="52.5" r="2.1" fill="#0398e0"/>
<circle cx="563.5" cy="51.1" r="2.1" fill="#0398e0"/>
<circle cx="557.2" cy="58.8" r="2.1" fill="#0398e0"/>
<circle cx="530.6" cy="83.3" r="2.1" fill="#4fc3f7"/>
<circle cx="533.2" cy="79.9" r="2.1" fill="#42bdf6"/>
<circle cx="528.9" cy="77.4" r="2.1" fill="#4fc3f7"/>
<circle cx="526.4" cy="74.8" r="2.1" fill="#42bdf6"/>
<circle cx="532.4" cy="74.8" r="2.1" fill="#29b6f6"/>
<circle cx="532.4" cy="71.4" r="2.1" fill="#38baf6"/>
<circle cx="528.1" cy="68.0" r="2.1" fill="#29b6f6"/>
<circle cx="530.6" cy="66.2" r="2.1" fill="#29b6f6"/>
<circle cx="535.8" cy="62.8" r="2.1" fill="#1fb0f4"/>
<circle cx="538.3" cy="60.3" r="2.1" fill="#18aaf2"/>
<circle cx="540.9" cy="61.1" r="2.1" fill="#18aaf2"/>
<circle cx="541.8" cy="57.7" r="2.1" fill="#0fa5f0"/>
<circle cx="535.8" cy="58.5" r="2.1" fill="#0fa5f0"/>
<line x1="460.5" y1="85.0" x2="454.2" y2="84.5" stroke="#a1d2fa" stroke-width="1.0"/>
<line x1="454.2" y1="84.5" x2="453.2" y2="81.6" stroke="#9ed0fa" stroke-width="1.0"/>
<line x1="453.2" y1="81.6" x2="457.0" y2="79.7" stroke="#9ccff9" stroke-width="1.0"/>
<line x1="457.0" y1="79.7" x2="461.8" y2="77.4" stroke="#99cef9" stroke-width="1.0"/>
<line x1="461.8" y1="77.4" x2="465.6" y2="78.8" stroke="#97ccf9" stroke-width="1.0"/>
<line x1="465.6" y1="78.8" x2="466.9" y2="75.0" stroke="#95cbf9" stroke-width="1.0"/>
<line x1="466.9" y1="75.0" x2="474.5" y2="73.6" stroke="#92c9f8" stroke-width="1.0"/>
<line x1="474.5" y1="73.6" x2="485.6" y2="72.7" stroke="#90c8f8" stroke-width="1.0"/>
<line x1="485.6" y1="72.7" x2="497.0" y2="71.7" stroke="#8cc7f8" stroke-width="1.0"/>
<line x1="497.0" y1="71.7" x2="500.0" y2="69.3" stroke="#89c6f8" stroke-width="1.0"/>
<line x1="500.0" y1="69.3" x2="496.2" y2="68.8" stroke="#85c4f7" stroke-width="1.0"/>
<line x1="496.2" y1="68.8" x2="491.4" y2="65.0" stroke="#83c3f7" stroke-width="1.0"/>
<line x1="491.4" y1="65.0" x2="489.5" y2="65.9" stroke="#80c2f7" stroke-width="1.0"/>
<line x1="489.5" y1="65.9" x2="497.1" y2="63.0" stroke="#7cc1f7" stroke-width="1.0"/>
<line x1="497.1" y1="63.0" x2="500.8" y2="62.7" stroke="#79bef7" stroke-width="1.0"/>
<line x1="500.8" y1="62.7" x2="505.3" y2="60.4" stroke="#74bdf7" stroke-width="1.0"/>
<line x1="505.3" y1="60.4" x2="509.9" y2="58.9" stroke="#6fbbf7" stroke-width="1.0"/>
<line x1="509.9" y1="58.9" x2="514.4" y2="57.4" stroke="#6bb8f6" stroke-width="1.0"/>
<line x1="514.4" y1="57.4" x2="519.0" y2="56.6" stroke="#67b7f6" stroke-width="1.0"/>
<line x1="519.0" y1="56.6" x2="522.8" y2="55.1" stroke="#63b4f6" stroke-width="1.0"/>
<line x1="522.8" y1="55.1" x2="527.0" y2="53.0" stroke="#5eb2f6" stroke-width="1.0"/>
<line x1="527.0" y1="53.0" x2="532.0" y2="50.5" stroke="#5eb2f6" stroke-width="1.0"/>
<line x1="532.0" y1="50.5" x2="537.0" y2="49.0" stroke="#5eb2f6" stroke-width="1.0"/>
<line x1="537.0" y1="49.0" x2="533.0" y2="47.0" stroke="#5cb2f6" stroke-width="1.0"/>
<line x1="533.0" y1="47.0" x2="528.0" y2="45.5" stroke="#5bb1f6" stroke-width="1.0"/>
<line x1="528.0" y1="45.5" x2="523.0" y2="47.0" stroke="#59b0f6" stroke-width="1.0"/>
<line x1="523.0" y1="47.0" x2="527.0" y2="49.0" stroke="#58b0f6" stroke-width="1.0"/>
<line x1="527.0" y1="49.0" x2="538.0" y2="46.0" stroke="#57aff6" stroke-width="1.0"/>
<line x1="538.0" y1="46.0" x2="543.0" y2="44.5" stroke="#56aef6" stroke-width="1.0"/>
<line x1="543.0" y1="44.5" x2="548.0" y2="45.0" stroke="#54aef6" stroke-width="1.0"/>
<line x1="548.0" y1="45.0" x2="553.0" y2="44.3" stroke="#53adf6" stroke-width="1.0"/>
<line x1="553.0" y1="44.3" x2="558.0" y2="45.2" stroke="#52adf6" stroke-width="1.0"/>
<line x1="558.0" y1="45.2" x2="563.0" y2="44.6" stroke="#51adf6" stroke-width="1.0"/>
<line x1="563.0" y1="44.6" x2="568.0" y2="45.0" stroke="#4facf6" stroke-width="1.0"/>
<line x1="568.0" y1="45.0" x2="573.0" y2="44.3" stroke="#4eabf6" stroke-width="1.0"/>
<line x1="573.0" y1="44.3" x2="578.0" y2="44.8" stroke="#4dabf6" stroke-width="1.0"/>
<line x1="578.0" y1="44.8" x2="583.0" y2="43.8" stroke="#4caaf6" stroke-width="1.0"/>
<line x1="583.0" y1="43.8" x2="587.0" y2="43.0" stroke="#4ba9f6" stroke-width="1.0"/>
<line x1="587.0" y1="43.0" x2="582.0" y2="42.7" stroke="#49a9f5" stroke-width="1.0"/>
<line x1="582.0" y1="42.7" x2="576.0" y2="42.9" stroke="#48a8f5" stroke-width="1.0"/>
<line x1="576.0" y1="42.9" x2="570.0" y2="42.8" stroke="#47a7f5" stroke-width="1.0"/>
<line x1="570.0" y1="42.8" x2="564.0" y2="43.0" stroke="#46a7f5" stroke-width="1.0"/>
<line x1="564.0" y1="43.0" x2="558.0" y2="42.8" stroke="#44a7f5" stroke-width="1.0"/>
<line x1="558.0" y1="42.8" x2="552.0" y2="43.0" stroke="#43a6f5" stroke-width="1.0"/>
<line x1="552.0" y1="43.0" x2="546.0" y2="43.2" stroke="#42a6f5" stroke-width="1.0"/>
<line x1="546.0" y1="43.2" x2="540.0" y2="43.2" stroke="#42a5f4" stroke-width="1.0"/>
<line x1="540.0" y1="43.2" x2="534.0" y2="43.5" stroke="#42a5f4" stroke-width="1.0"/>
<line x1="534.0" y1="43.5" x2="529.0" y2="44.0" stroke="#42a4f3" stroke-width="1.0"/>
<line x1="529.0" y1="44.0" x2="535.0" y2="45.8" stroke="#41a3f2" stroke-width="1.0"/>
<line x1="535.0" y1="45.8" x2="545.0" y2="47.0" stroke="#41a3f2" stroke-width="1.0"/>
<line x1="545.0" y1="47.0" x2="552.0" y2="47.0" stroke="#41a2f1" stroke-width="1.0"/>
<line x1="552.0" y1="47.0" x2="560.0" y2="46.5" stroke="#41a2f1" stroke-width="1.0"/>
<line x1="560.0" y1="46.5" x2="568.0" y2="47.0" stroke="#41a2f1" stroke-width="1.0"/>
<line x1="568.0" y1="47.0" x2="575.0" y2="46.2" stroke="#41a1f0" stroke-width="1.0"/>
<line x1="575.0" y1="46.2" x2="525.7" y2="43.1" stroke="#41a1f0" stroke-width="1.0"/>
<line x1="525.7" y1="43.1" x2="525.4" y2="45.9" stroke="#41a0ef" stroke-width="1.0"/>
<line x1="525.4" y1="45.9" x2="523.6" y2="48.5" stroke="#419fee" stroke-width="1.0"/>
<line x1="523.6" y1="48.5" x2="526.0" y2="50.0" stroke="#419fee" stroke-width="1.0"/>
<line x1="526.0" y1="50.0" x2="529.3" y2="50.0" stroke="#419eed" stroke-width="1.0"/>
<line x1="529.3" y1="50.0" x2="529.3" y2="48.7" stroke="#419dec" stroke-width="1.0"/>
<line x1="529.3" y1="48.7" x2="531.5" y2="47.8" stroke="#419dec" stroke-width="1.0"/>
<line x1="531.5" y1="47.8" x2="532.8" y2="46.2" stroke="#419ceb" stroke-width="1.0"/>
<line x1="532.8" y1="46.2" x2="534.5" y2="46.0" stroke="#419ceb" stroke-width="1.0"/>
<line x1="534.5" y1="46.0" x2="535.5" y2="43.9" stroke="#409ceb" stroke-width="1.0"/>
<line x1="535.5" y1="43.9" x2="537.2" y2="43.9" stroke="#409bea" stroke-width="1.0"/>
<line x1="537.2" y1="43.9" x2="538.7" y2="45.2" stroke="#409bea" stroke-width="1.0"/>
<line x1="538.7" y1="45.2" x2="540.6" y2="46.3" stroke="#409ae9" stroke-width="1.0"/>
<line x1="540.6" y1="46.3" x2="544.3" y2="48.2" stroke="#409ae9" stroke-width="1.0"/>
<line x1="544.3" y1="48.2" x2="543.5" y2="50.0" stroke="#409ae9" stroke-width="1.0"/>
<line x1="543.5" y1="50.0" x2="541.8" y2="50.7" stroke="#409ae9" stroke-width="1.0"/>
<line x1="541.8" y1="50.7" x2="537.6" y2="50.2" stroke="#409ae9" stroke-width="1.0"/>
<line x1="537.6" y1="50.2" x2="535.8" y2="50.5" stroke="#409ae9" stroke-width="1.0"/>
<line x1="535.8" y1="50.5" x2="529.5" y2="46.1" stroke="#409ae9" stroke-width="1.0"/>
<line x1="529.5" y1="46.1" x2="532.5" y2="42.7" stroke="#409ae9" stroke-width="1.0"/>
<line x1="532.5" y1="42.7" x2="520.6" y2="48.1" stroke="#409ae9" stroke-width="1.0"/>
<line x1="520.6" y1="48.1" x2="519.3" y2="46.2" stroke="#409ae9" stroke-width="1.0"/>
<line x1="519.3" y1="46.2" x2="547.1" y2="47.6" stroke="#409ae9" stroke-width="1.0"/>
<line x1="547.1" y1="47.6" x2="547.0" y2="51.3" stroke="#409ae9" stroke-width="1.0"/>
<line x1="547.0" y1="51.3" x2="549.6" y2="51.5" stroke="#409ae9" stroke-width="1.0"/>
<line x1="549.6" y1="51.5" x2="553.1" y2="47.5" stroke="#409ae9" stroke-width="1.0"/>
<line x1="553.1" y1="47.5" x2="553.7" y2="46.6" stroke="#409ae9" stroke-width="1.0"/>
<line x1="553.7" y1="46.6" x2="556.3" y2="45.4" stroke="#409ae9" stroke-width="1.0"/>
<line x1="556.3" y1="45.4" x2="558.6" y2="45.4" stroke="#409ae9" stroke-width="1.0"/>
<line x1="558.6" y1="45.4" x2="556.7" y2="47.8" stroke="#409ae9" stroke-width="1.0"/>
<line x1="556.7" y1="47.8" x2="555.7" y2="50.0" stroke="#409ae9" stroke-width="1.0"/>
<line x1="555.7" y1="50.0" x2="561.8" y2="50.9" stroke="#409ae9" stroke-width="1.0"/>
<line x1="561.8" y1="50.9" x2="562.4" y2="48.5" stroke="#409ae9" stroke-width="1.0"/>
<line x1="562.4" y1="48.5" x2="562.1" y2="45.9" stroke="#409ae9" stroke-width="1.0"/>
<line x1="562.1" y1="45.9" x2="564.7" y2="46.5" stroke="#409ae9" stroke-width="1.0"/>
<line x1="564.7" y1="46.5" x2="567.5" y2="44.1" stroke="#409ae9" stroke-width="1.0"/>
<line x1="567.5" y1="44.1" x2="568.6" y2="46.1" stroke="#4099e8" stroke-width="1.0"/>
<line x1="568.6" y1="46.1" x2="570.4" y2="48.7" stroke="#4098e7" stroke-width="1.0"/>
<line x1="570.4" y1="48.7" x2="571.4" y2="50.5" stroke="#3f97e6" stroke-width="1.0"/>
<line x1="571.4" y1="50.5" x2="574.2" y2="48.9" stroke="#3f97e6" stroke-width="1.0"/>
<line x1="574.2" y1="48.9" x2="574.3" y2="46.7" stroke="#3f96e6" stroke-width="1.0"/>
<line x1="574.3" y1="46.7" x2="573.4" y2="43.5" stroke="#3f96e5" stroke-width="1.0"/>
<line x1="573.4" y1="43.5" x2="577.7" y2="45.8" stroke="#3e95e4" stroke-width="1.0"/>
<line x1="577.7" y1="45.8" x2="577.5" y2="48.5" stroke="#3e94e3" stroke-width="1.0"/>
<line x1="577.5" y1="48.5" x2="579.6" y2="48.8" stroke="#3e94e2" stroke-width="1.0"/>
<line x1="579.6" y1="48.8" x2="580.5" y2="46.4" stroke="#3e93e1" stroke-width="1.0"/>
<line x1="580.5" y1="46.4" x2="553.3" y2="42.9" stroke="#3e92e1" stroke-width="1.0"/>
<line x1="553.3" y1="42.9" x2="550.2" y2="43.4" stroke="#3d91e0" stroke-width="1.0"/>
<line x1="550.2" y1="43.4" x2="550.6" y2="45.1" stroke="#3d90e0" stroke-width="1.0"/>
<line x1="550.6" y1="45.1" x2="547.4" y2="43.8" stroke="#3d90df" stroke-width="1.0"/>
<line x1="547.4" y1="43.8" x2="527.9" y2="43.9" stroke="#3d90de" stroke-width="1.0"/>
<line x1="527.9" y1="43.9" x2="530.3" y2="43.9" stroke="#3c8fdd" stroke-width="1.0"/>
<line x1="530.3" y1="43.9" x2="532.0" y2="43.0" stroke="#3c8edd" stroke-width="1.0"/>
<line x1="532.0" y1="43.0" x2="534.5" y2="43.0" stroke="#3c8edc" stroke-width="1.0"/>
<line x1="534.5" y1="43.0" x2="536.1" y2="43.4" stroke="#3c8ddb" stroke-width="1.0"/>
<line x1="536.1" y1="43.4" x2="538.3" y2="43.3" stroke="#3c8cda" stroke-width="1.0"/>
<line x1="538.3" y1="43.3" x2="540.7" y2="43.3" stroke="#3c8bda" stroke-width="1.0"/>
<line x1="540.7" y1="43.3" x2="542.4" y2="43.1" stroke="#3c8bd9" stroke-width="1.0"/>
<line x1="542.4" y1="43.1" x2="544.8" y2="43.0" stroke="#3c8bd9" stroke-width="1.0"/>
<line x1="544.8" y1="43.0" x2="546.8" y2="43.8" stroke="#3c8bd9" stroke-width="1.0"/>
<line x1="546.8" y1="43.8" x2="548.9" y2="43.2" stroke="#3c8bd9" stroke-width="1.0"/>
<line x1="548.9" y1="43.2" x2="551.0" y2="43.7" stroke="#3c8bd9" stroke-width="1.0"/>
<line x1="551.0" y1="43.7" x2="553.2" y2="43.2" stroke="#3c8bd9" stroke-width="1.0"/>
<line x1="553.2" y1="43.2" x2="555.2" y2="43.9" stroke="#3c8bd9" stroke-width="1.0"/>
<line x1="555.2" y1="43.9" x2="557.2" y2="43.1" stroke="#3c8bd9" stroke-width="1.0"/>
<line x1="557.2" y1="43.1" x2="559.6" y2="43.3" stroke="#3c8bd9" stroke-width="1.0"/>
<line x1="559.6" y1="43.3" x2="561.6" y2="43.6" stroke="#3c8bd9" stroke-width="1.0"/>
<line x1="561.6" y1="43.6" x2="563.5" y2="43.1" stroke="#3c8bd9" stroke-width="1.0"/>
<line x1="563.5" y1="43.1" x2="565.8" y2="43.0" stroke="#3c8bd9" stroke-width="1.0"/>
<line x1="565.8" y1="43.0" x2="567.7" y2="43.0" stroke="#3c8bd9" stroke-width="1.0"/>
<line x1="567.7" y1="43.0" x2="569.9" y2="43.8" stroke="#3c8bd9" stroke-width="1.0"/>
<line x1="569.9" y1="43.8" x2="572.3" y2="43.7" stroke="#3c8bd9" stroke-width="1.0"/>
<line x1="572.3" y1="43.7" x2="574.2" y2="43.8" stroke="#3c8bd9" stroke-width="1.0"/>
<line x1="574.2" y1="43.8" x2="576.2" y2="43.0" stroke="#3c8bd9" stroke-width="1.0"/>
<line x1="576.2" y1="43.0" x2="578.2" y2="43.4" stroke="#3c8bd9" stroke-width="1.0"/>
<line x1="578.2" y1="43.4" x2="580.4" y2="43.2" stroke="#3c8bd9" stroke-width="1.0"/>
<line x1="580.4" y1="43.2" x2="582.3" y2="43.5" stroke="#3c8bd9" stroke-width="1.0"/>
<line x1="582.3" y1="43.5" x2="584.8" y2="43.3" stroke="#3c8bd9" stroke-width="1.0"/>
<line x1="584.8" y1="43.3" x2="586.6" y2="43.1" stroke="#3c8bd9" stroke-width="1.0"/>
<line x1="586.6" y1="43.1" x2="589.1" y2="43.3" stroke="#3c8bd9" stroke-width="1.0"/>
<circle cx="460.5" cy="85.0" r="2.1" fill="#90caf9"/>
<circle cx="454.2" cy="84.5" r="2.1" fill="#8dc8f9"/>
<circle cx="453.2" cy="81.6" r="2.1" fill="#8ac7f8"/>
<circle cx="457.0" cy="79.7" r="2.1" fill="#87c5f8"/>
<circle cx="461.8" cy="77.4" r="2.1" fill="#85c3f8"/>
<circle cx="465.6" cy="78.8" r="2.1" fill="#82c2f8"/>
<circle cx="466.9" cy="75.0" r="2.1" fill="#7fc0f7"/>
<circle cx="474.5" cy="73.6" r="2.1" fill="#7cbef7"/>
<circle cx="485.6" cy="72.7" r="2.1" fill="#78bdf7"/>
<circle cx="497.0" cy="71.7" r="2.1" fill="#74bcf7"/>
<circle cx="500.0" cy="69.3" r="2.1" fill="#70baf6"/>
<circle cx="496.2" cy="68.8" r="2.1" fill="#6db8f6"/>
<circle cx="491.4" cy="65.0" r="2.1" fill="#69b7f6"/>
<circle cx="489.5" cy="65.9" r="2.1" fill="#65b6f6"/>
<circle cx="497.1" cy="63.0" r="2.1" fill="#61b3f6"/>
<circle cx="500.8" cy="62.7" r="2.1" fill="#5cb1f6"/>
<circle cx="505.3" cy="60.4" r="2.1" fill="#56aff6"/>
<circle cx="509.9" cy="58.9" r="2.1" fill="#51acf5"/>
<circle cx="514.4" cy="57.4" r="2.1" fill="#4caaf5"/>
<circle cx="519.0" cy="56.6" r="2.1" fill="#47a7f5"/>
<circle cx="522.8" cy="55.1" r="2.1" fill="#42a5f5"/>
<circle cx="527.0" cy="53.0" r="2.1" fill="#42a5f5"/>
<circle cx="532.0" cy="50.5" r="2.1" fill="#41a4f5"/>
<circle cx="537.0" cy="49.0" r="2.1" fill="#3fa4f5"/>
<circle cx="533.0" cy="47.0" r="2.1" fill="#3ea3f5"/>
<circle cx="528.0" cy="45.5" r="2.1" fill="#3ca2f5"/>
<circle cx="523.0" cy="47.0" r="2.1" fill="#3ba2f5"/>
<circle cx="527.0" cy="49.0" r="2.1" fill="#39a1f4"/>
<circle cx="538.0" cy="46.0" r="2.1" fill="#38a0f4"/>
<circle cx="543.0" cy="44.5" r="2.1" fill="#36a0f4"/>
<circle cx="548.0" cy="45.0" r="2.1" fill="#359ff4"/>
<circle cx="553.0" cy="44.3" r="2.1" fill="#339ef4"/>
<circle cx="558.0" cy="45.2" r="2.1" fill="#329ef4"/>
<circle cx="563.0" cy="44.6" r="2.1" fill="#309df4"/>
<circle cx="568.0" cy="45.0" r="2.1" fill="#2f9cf4"/>
<circle cx="573.0" cy="44.3" r="2.1" fill="#2e9cf4"/>
<circle cx="578.0" cy="44.8" r="2.1" fill="#2c9bf4"/>
<circle cx="583.0" cy="43.8" r="2.1" fill="#2b9af4"/>
<circle cx="587.0" cy="43.0" r="2.1" fill="#299af3"/>
<circle cx="582.0" cy="42.7" r="2.1" fill="#2899f3"/>
<circle cx="576.0" cy="42.9" r="2.1" fill="#2698f3"/>
<circle cx="570.0" cy="42.8" r="2.1" fill="#2598f3"/>
<circle cx="564.0" cy="43.0" r="2.1" fill="#2397f3"/>
<circle cx="558.0" cy="42.8" r="2.1" fill="#2296f3"/>
<circle cx="552.0" cy="43.0" r="2.1" fill="#2196f3"/>
<circle cx="546.0" cy="43.2" r="2.1" fill="#2195f2"/>
<circle cx="540.0" cy="43.2" r="2.1" fill="#2195f2"/>
<circle cx="534.0" cy="43.5" r="2.1" fill="#2194f1"/>
<circle cx="529.0" cy="44.0" r="2.1" fill="#2093f0"/>
<circle cx="535.0" cy="45.8" r="2.1" fill="#2093f0"/>
<circle cx="545.0" cy="47.0" r="2.1" fill="#2092ef"/>
<circle cx="552.0" cy="47.0" r="2.1" fill="#2091ee"/>
<circle cx="560.0" cy="46.5" r="2.1" fill="#2091ee"/>
<circle cx="568.0" cy="47.0" r="2.1" fill="#2090ed"/>
<circle cx="575.0" cy="46.2" r="2.1" fill="#2090ed"/>
<circle cx="525.7" cy="43.1" r="2.1" fill="#1f8fec"/>
<circle cx="525.4" cy="45.9" r="2.1" fill="#1f8eeb"/>
<circle cx="523.6" cy="48.5" r="2.1" fill="#1f8eeb"/>
<circle cx="526.0" cy="50.0" r="2.1" fill="#1f8dea"/>
<circle cx="529.3" cy="50.0" r="2.1" fill="#1f8ce9"/>
<circle cx="529.3" cy="48.7" r="2.1" fill="#1f8ce9"/>
<circle cx="531.5" cy="47.8" r="2.1" fill="#1f8be8"/>
<circle cx="532.8" cy="46.2" r="2.1" fill="#1f8be8"/>
<circle cx="534.5" cy="46.0" r="2.1" fill="#1e8ae7"/>
<circle cx="535.5" cy="43.9" r="2.1" fill="#1e89e6"/>
<circle cx="537.2" cy="43.9" r="2.1" fill="#1e89e6"/>
<circle cx="538.7" cy="45.2" r="2.1" fill="#1e88e5"/>
<circle cx="540.6" cy="46.3" r="2.1" fill="#1e88e5"/>
<circle cx="544.3" cy="48.2" r="2.1" fill="#1e88e5"/>
<circle cx="543.5" cy="50.0" r="2.1" fill="#1e88e5"/>
<circle cx="541.8" cy="50.7" r="2.1" fill="#1e88e5"/>
<circle cx="537.6" cy="50.2" r="2.1" fill="#1e88e5"/>
<circle cx="535.8" cy="50.5" r="2.1" fill="#1e88e5"/>
<circle cx="529.5" cy="46.1" r="2.1" fill="#1e88e5"/>
<circle cx="532.5" cy="42.7" r="2.1" fill="#1e88e5"/>
<circle cx="520.6" cy="48.1" r="2.1" fill="#1e88e5"/>
<circle cx="519.3" cy="46.2" r="2.1" fill="#1e88e5"/>
<circle cx="547.1" cy="47.6" r="2.1" fill="#1e88e5"/>
<circle cx="547.0" cy="51.3" r="2.1" fill="#1e88e5"/>
<circle cx="549.6" cy="51.5" r="2.1" fill="#1e88e5"/>
<circle cx="553.1" cy="47.5" r="2.1" fill="#1e88e5"/>
<circle cx="553.7" cy="46.6" r="2.1" fill="#1e88e5"/>
<circle cx="556.3" cy="45.4" r="2.1" fill="#1e88e5"/>
<circle cx="558.6" cy="45.4" r="2.1" fill="#1e88e5"/>
<circle cx="556.7" cy="47.8" r="2.1" fill="#1e88e5"/>
<circle cx="555.7" cy="50.0" r="2.1" fill="#1e88e5"/>
<circle cx="561.8" cy="50.9" r="2.1" fill="#1e88e5"/>
<circle cx="562.4" cy="48.5" r="2.1" fill="#1e88e5"/>
<circle cx="562.1" cy="45.9" r="2.1" fill="#1e88e5"/>
<circle cx="564.7" cy="46.5" r="2.1" fill="#1e88e5"/>
<circle cx="567.5" cy="44.1" r="2.1" fill="#1e87e4"/>
<circle cx="568.6" cy="46.1" r="2.1" fill="#1e86e3"/>
<circle cx="570.4" cy="48.7" r="2.1" fill="#1d85e2"/>
<circle cx="571.4" cy="50.5" r="2.1" fill="#1d85e1"/>
<circle cx="574.2" cy="48.9" r="2.1" fill="#1d84e1"/>
<circle cx="574.3" cy="46.7" r="2.1" fill="#1d83e0"/>
<circle cx="573.4" cy="43.5" r="2.1" fill="#1c82df"/>
<circle cx="577.7" cy="45.8" r="2.1" fill="#1c81de"/>
<circle cx="577.5" cy="48.5" r="2.1" fill="#1c81dd"/>
<circle cx="579.6" cy="48.8" r="2.1" fill="#1c80dc"/>
<circle cx="580.5" cy="46.4" r="2.1" fill="#1c7fdc"/>
<circle cx="553.3" cy="42.9" r="2.1" fill="#1b7edb"/>
<circle cx="550.2" cy="43.4" r="2.1" fill="#1b7dda"/>
<circle cx="550.6" cy="45.1" r="2.1" fill="#1b7dd9"/>
<circle cx="547.4" cy="43.8" r="2.1" fill="#1b7cd8"/>
<circle cx="527.9" cy="43.9" r="2.1" fill="#1a7bd7"/>
<circle cx="530.3" cy="43.9" r="2.1" fill="#1a7ad7"/>
<circle cx="532.0" cy="43.0" r="2.1" fill="#1a7ad6"/>
<circle cx="534.5" cy="43.0" r="2.1" fill="#1a79d5"/>
<circle cx="536.1" cy="43.4" r="2.1" fill="#1a78d4"/>
<circle cx="538.3" cy="43.3" r="2.1" fill="#1977d3"/>
<circle cx="540.7" cy="43.3" r="2.1" fill="#1976d2"/>
<circle cx="542.4" cy="43.1" r="2.1" fill="#1976d2"/>
<circle cx="544.8" cy="43.0" r="2.1" fill="#1976d2"/>
<circle cx="546.8" cy="43.8" r="2.1" fill="#1976d2"/>
<circle cx="548.9" cy="43.2" r="2.1" fill="#1976d2"/>
<circle cx="551.0" cy="43.7" r="2.1" fill="#1976d2"/>
<circle cx="553.2" cy="43.2" r="2.1" fill="#1976d2"/>
<circle cx="555.2" cy="43.9" r="2.1" fill="#1976d2"/>
<circle cx="557.2" cy="43.1" r="2.1" fill="#1976d2"/>
<circle cx="559.6" cy="43.3" r="2.1" fill="#1976d2"/>
<circle cx="561.6" cy="43.6" r="2.1" fill="#1976d2"/>
<circle cx="563.5" cy="43.1" r="2.1" fill="#1976d2"/>
<circle cx="565.8" cy="43.0" r="2.1" fill="#1976d2"/>
<circle cx="567.7" cy="43.0" r="2.1" fill="#1976d2"/>
<circle cx="569.9" cy="43.8" r="2.1" fill="#1976d2"/>
<circle cx="572.3" cy="43.7" r="2.1" fill="#1976d2"/>
<circle cx="574.2" cy="43.8" r="2.1" fill="#1976d2"/>
<circle cx="576.2" cy="43.0" r="2.1" fill="#1976d2"/>
<circle cx="578.2" cy="43.4" r="2.1" fill="#1976d2"/>
<circle cx="580.4" cy="43.2" r="2.1" fill="#1976d2"/>
<circle cx="582.3" cy="43.5" r="2.1" fill="#1976d2"/>
<circle cx="584.8" cy="43.3" r="2.1" fill="#1976d2"/>
<circle cx="586.6" cy="43.1" r="2.1" fill="#1976d2"/>
<circle cx="589.1" cy="43.3" r="2.1" fill="#1976d2"/>
<line x1="649.3" y1="85.7" x2="641.1" y2="85.2" stroke="#ffd493" stroke-width="1.0"/>
<line x1="641.1" y1="85.2" x2="635.4" y2="83.8" stroke="#ffd28f" stroke-width="1.0"/>
<line x1="635.4" y1="83.8" x2="627.2" y2="81.9" stroke="#ffcf8b" stroke-width="1.0"/>
<line x1="627.2" y1="81.9" x2="625.3" y2="80.4" stroke="#ffce87" stroke-width="1.0"/>
<line x1="625.3" y1="80.4" x2="622.1" y2="78.5" stroke="#ffcc84" stroke-width="1.0"/>
<line x1="622.1" y1="78.5" x2="616.4" y2="76.6" stroke="#ffca80" stroke-width="1.0"/>
<line x1="616.4" y1="76.6" x2="618.3" y2="73.8" stroke="#ffc97c" stroke-width="1.0"/>
<line x1="618.3" y1="73.8" x2="615.4" y2="74.7" stroke="#ffc778" stroke-width="1.0"/>
<line x1="615.4" y1="74.7" x2="608.8" y2="72.8" stroke="#ffc674" stroke-width="1.0"/>
<line x1="608.8" y1="72.8" x2="607.8" y2="70.0" stroke="#ffc470" stroke-width="1.0"/>
<line x1="607.8" y1="70.0" x2="604.0" y2="68.6" stroke="#ffc46d" stroke-width="1.0"/>
<line x1="604.0" y1="68.6" x2="601.2" y2="66.2" stroke="#ffc269" stroke-width="1.0"/>
<line x1="601.2" y1="66.2" x2="594.3" y2="64.5" stroke="#ffc063" stroke-width="1.0"/>
<line x1="594.3" y1="64.5" x2="586.5" y2="63.5" stroke="#ffbe5e" stroke-width="1.0"/>
<line x1="586.5" y1="63.5" x2="584.5" y2="60.5" stroke="#ffbb58" stroke-width="1.0"/>
<line x1="584.5" y1="60.5" x2="583.5" y2="57.0" stroke="#ffb952" stroke-width="1.0"/>
<line x1="583.5" y1="57.0" x2="585.0" y2="54.0" stroke="#ffb74c" stroke-width="1.0"/>
<line x1="585.0" y1="54.0" x2="592.6" y2="48.0" stroke="#ffb447" stroke-width="1.0"/>
<line x1="592.6" y1="48.0" x2="597.9" y2="50.5" stroke="#ffb447" stroke-width="1.0"/>
<line x1="597.9" y1="50.5" x2="599.0" y2="41.8" stroke="#ffb241" stroke-width="1.0"/>
<line x1="599.0" y1="41.8" x2="595.0" y2="42.2" stroke="#ffaf3b" stroke-width="1.0"/>
<line x1="595.0" y1="42.2" x2="590.0" y2="44.0" stroke="#ffad35" stroke-width="1.0"/>
<line x1="590.0" y1="44.0" x2="586.0" y2="47.0" stroke="#ffab2f" stroke-width="1.0"/>
<line x1="586.0" y1="47.0" x2="580.0" y2="49.0" stroke="#ffa828" stroke-width="1.0"/>
<line x1="580.0" y1="49.0" x2="575.0" y2="49.4" stroke="#fea626" stroke-width="1.0"/>
<line x1="575.0" y1="49.4" x2="570.5" y2="49.6" stroke="#fea426" stroke-width="1.0"/>
<line x1="570.5" y1="49.6" x2="566.0" y2="49.3" stroke="#fda226" stroke-width="1.0"/>
<line x1="566.0" y1="49.3" x2="562.0" y2="49.0" stroke="#fca126" stroke-width="1.0"/>
<line x1="562.0" y1="49.0" x2="558.0" y2="48.6" stroke="#fc9f26" stroke-width="1.0"/>
<line x1="558.0" y1="48.6" x2="555.0" y2="48.2" stroke="#fc9c26" stroke-width="1.0"/>
<line x1="555.0" y1="48.2" x2="559.0" y2="50.2" stroke="#fb9a26" stroke-width="1.0"/>
<line x1="559.0" y1="50.2" x2="565.0" y2="50.8" stroke="#f99726" stroke-width="1.0"/>
<line x1="565.0" y1="50.8" x2="572.0" y2="51.0" stroke="#f89526" stroke-width="1.0"/>
<line x1="572.0" y1="51.0" x2="578.0" y2="50.2" stroke="#f79226" stroke-width="1.0"/>
<circle cx="649.3" cy="85.7" r="2.1" fill="#ffcc80"/>
<circle cx="641.1" cy="85.2" r="2.1" fill="#ffca7b"/>
<circle cx="635.4" cy="83.8" r="2.1" fill="#ffc777"/>
<circle cx="627.2" cy="81.9" r="2.1" fill="#ffc572"/>
<circle cx="625.3" cy="80.4" r="2.1" fill="#ffc36e"/>
<circle cx="622.1" cy="78.5" r="2.1" fill="#ffc169"/>
<circle cx="616.4" cy="76.6" r="2.1" fill="#ffbf65"/>
<circle cx="618.3" cy="73.8" r="2.1" fill="#ffbd60"/>
<circle cx="615.4" cy="74.7" r="2.1" fill="#ffbc5c"/>
<circle cx="608.8" cy="72.8" r="2.1" fill="#ffba57"/>
<circle cx="607.8" cy="70.0" r="2.1" fill="#ffb953"/>
<circle cx="604.0" cy="68.6" r="2.1" fill="#ffb74e"/>
<circle cx="601.2" cy="66.2" r="2.1" fill="#ffb548"/>
<circle cx="594.3" cy="64.5" r="2.1" fill="#ffb242"/>
<circle cx="586.5" cy="63.5" r="2.1" fill="#ffaf3b"/>
<circle cx="584.5" cy="60.5" r="2.1" fill="#ffad34"/>
<circle cx="583.5" cy="57.0" r="2.1" fill="#ffaa2d"/>
<circle cx="585.0" cy="54.0" r="2.1" fill="#ffa726"/>
<circle cx="592.6" cy="48.0" r="2.1" fill="#ffa726"/>
<circle cx="597.9" cy="50.5" r="2.1" fill="#ffa41f"/>
<circle cx="599.0" cy="41.8" r="2.1" fill="#ffa118"/>
<circle cx="595.0" cy="42.2" r="2.1" fill="#ff9f11"/>
<circle cx="590.0" cy="44.0" r="2.1" fill="#ff9c0a"/>
<circle cx="586.0" cy="47.0" r="2.1" fill="#ff9902"/>
<circle cx="580.0" cy="49.0" r="2.1" fill="#fe9600"/>
<circle cx="575.0" cy="49.4" r="2.1" fill="#fe9400"/>
<circle cx="570.5" cy="49.6" r="2.1" fill="#fd9200"/>
<circle cx="566.0" cy="49.3" r="2.1" fill="#fc9000"/>
<circle cx="562.0" cy="49.0" r="2.1" fill="#fc8e00"/>
<circle cx="558.0" cy="48.6" r="2.1" fill="#fb8b00"/>
<circle cx="555.0" cy="48.2" r="2.1" fill="#fa8800"/>
<circle cx="559.0" cy="50.2" r="2.1" fill="#f88500"/>
<circle cx="565.0" cy="50.8" r="2.1" fill="#f78200"/>
<circle cx="572.0" cy="51.0" r="2.1" fill="#f67f00"/>
<circle cx="578.0" cy="50.2" r="2.1" fill="#f57c00"/>
<line x1="566.0" y1="47.0" x2="570.5" y2="52.5" stroke="#abd47c" stroke-width="1.0"/>
<line x1="570.5" y1="52.5" x2="574.4" y2="49.4" stroke="#a9d379" stroke-width="1.0"/>
<line x1="574.4" y1="49.4" x2="578.0" y2="47.0" stroke="#a7d276" stroke-width="1.0"/>
<line x1="578.0" y1="47.0" x2="582.0" y2="45.5" stroke="#a5d073" stroke-width="1.0"/>
<line x1="582.0" y1="45.5" x2="587.3" y2="49.0" stroke="#a3cf6f" stroke-width="1.0"/>
<line x1="587.3" y1="49.0" x2="591.0" y2="46.5" stroke="#a1cf6d" stroke-width="1.0"/>
<line x1="591.0" y1="46.5" x2="594.0" y2="44.0" stroke="#9fce69" stroke-width="1.0"/>
<line x1="594.0" y1="44.0" x2="597.6" y2="42.3" stroke="#9dcc66" stroke-width="1.0"/>
<line x1="597.6" y1="42.3" x2="592.0" y2="43.5" stroke="#9ccb64" stroke-width="1.0"/>
<line x1="592.0" y1="43.5" x2="586.0" y2="45.0" stroke="#9ac963" stroke-width="1.0"/>
<line x1="586.0" y1="45.0" x2="580.0" y2="46.5" stroke="#98c763" stroke-width="1.0"/>
<line x1="580.0" y1="46.5" x2="574.0" y2="46.0" stroke="#96c562" stroke-width="1.0"/>
<line x1="574.0" y1="46.0" x2="568.0" y2="45.5" stroke="#94c461" stroke-width="1.0"/>
<line x1="568.0" y1="45.5" x2="572.0" y2="48.0" stroke="#92c260" stroke-width="1.0"/>
<line x1="572.0" y1="48.0" x2="578.0" y2="50.5" stroke="#90bf5f" stroke-width="1.0"/>
<line x1="578.0" y1="50.5" x2="584.0" y2="48.0" stroke="#8fbe5e" stroke-width="1.0"/>
<line x1="584.0" y1="48.0" x2="590.0" y2="45.0" stroke="#8cbb5d" stroke-width="1.0"/>
<line x1="590.0" y1="45.0" x2="596.0" y2="45.5" stroke="#8bb95c" stroke-width="1.0"/>
<line x1="596.0" y1="45.5" x2="593.0" y2="48.0" stroke="#88b75a" stroke-width="1.0"/>
<line x1="593.0" y1="48.0" x2="588.0" y2="51.0" stroke="#85b459" stroke-width="1.0"/>
<line x1="588.0" y1="51.0" x2="582.0" y2="51.5" stroke="#83b258" stroke-width="1.0"/>
<line x1="582.0" y1="51.5" x2="576.0" y2="52.5" stroke="#81b057" stroke-width="1.0"/>
<circle cx="566.0" cy="47.0" r="2.1" fill="#9ccc65"/>
<circle cx="570.5" cy="52.5" r="2.1" fill="#9acb61"/>
<circle cx="574.4" cy="49.4" r="2.1" fill="#97ca5e"/>
<circle cx="578.0" cy="47.0" r="2.1" fill="#95c85a"/>
<circle cx="582.0" cy="45.5" r="2.1" fill="#93c756"/>
<circle cx="587.3" cy="49.0" r="2.1" fill="#90c653"/>
<circle cx="591.0" cy="46.5" r="2.1" fill="#8ec54f"/>
<circle cx="594.0" cy="44.0" r="2.1" fill="#8cc34b"/>
<circle cx="597.6" cy="42.3" r="2.1" fill="#8ac249"/>
<circle cx="592.0" cy="43.5" r="2.1" fill="#88bf48"/>
<circle cx="586.0" cy="45.0" r="2.1" fill="#86bd47"/>
<circle cx="580.0" cy="46.5" r="2.1" fill="#84bb46"/>
<circle cx="574.0" cy="46.0" r="2.1" fill="#81b945"/>
<circle cx="568.0" cy="45.5" r="2.1" fill="#7fb744"/>
<circle cx="572.0" cy="48.0" r="2.1" fill="#7db443"/>
<circle cx="578.0" cy="50.5" r="2.1" fill="#7bb242"/>
<circle cx="584.0" cy="48.0" r="2.1" fill="#78af40"/>
<circle cx="590.0" cy="45.0" r="2.1" fill="#76ad3f"/>
<circle cx="596.0" cy="45.5" r="2.1" fill="#73aa3d"/>
<circle cx="593.0" cy="48.0" r="2.1" fill="#70a73c"/>
<circle cx="588.0" cy="51.0" r="2.1" fill="#6da43b"/>
<circle cx="582.0" cy="51.5" r="2.1" fill="#6ba239"/>
<circle cx="576.0" cy="52.5" r="2.1" fill="#689f38"/>
<line x1="561.7" y1="61.8" x2="566.0" y2="61.4" stroke="#ffd248" stroke-width="1.0"/>
<line x1="566.0" y1="61.4" x2="562.8" y2="61.0" stroke="#ffd248" stroke-width="1.0"/>
<line x1="562.8" y1="61.0" x2="568.1" y2="60.4" stroke="#ffd146" stroke-width="1.0"/>
<line x1="568.1" y1="60.4" x2="570.4" y2="65.7" stroke="#ffd043" stroke-width="1.0"/>
<line x1="570.4" y1="65.7" x2="574.0" y2="61.0" stroke="#ffd041" stroke-width="1.0"/>
<line x1="574.0" y1="61.0" x2="576.5" y2="57.4" stroke="#ffcf3e" stroke-width="1.0"/>
<line x1="576.5" y1="57.4" x2="579.5" y2="55.8" stroke="#ffcf3c" stroke-width="1.0"/>
<line x1="579.5" y1="55.8" x2="583.7" y2="56.1" stroke="#ffce39" stroke-width="1.0"/>
<line x1="583.7" y1="56.1" x2="579.1" y2="54.6" stroke="#ffcd36" stroke-width="1.0"/>
<line x1="579.1" y1="54.6" x2="573.0" y2="56.0" stroke="#ffcc34" stroke-width="1.0"/>
<line x1="573.0" y1="56.0" x2="571.5" y2="59.2" stroke="#ffcc31" stroke-width="1.0"/>
<line x1="571.5" y1="59.2" x2="570.0" y2="53.0" stroke="#ffcb2f" stroke-width="1.0"/>
<line x1="570.0" y1="53.0" x2="575.0" y2="52.0" stroke="#ffca2c" stroke-width="1.0"/>
<line x1="575.0" y1="52.0" x2="581.0" y2="51.5" stroke="#ffc92b" stroke-width="1.0"/>
<line x1="581.0" y1="51.5" x2="585.0" y2="53.0" stroke="#ffc82b" stroke-width="1.0"/>
<line x1="585.0" y1="53.0" x2="588.0" y2="51.5" stroke="#ffc72a" stroke-width="1.0"/>
<line x1="588.0" y1="51.5" x2="591.3" y2="49.0" stroke="#ffc62a" stroke-width="1.0"/>
<line x1="591.3" y1="49.0" x2="594.0" y2="50.5" stroke="#ffc52a" stroke-width="1.0"/>
<line x1="594.0" y1="50.5" x2="598.1" y2="50.8" stroke="#ffc429" stroke-width="1.0"/>
<line x1="598.1" y1="50.8" x2="587.3" y2="49.5" stroke="#ffc329" stroke-width="1.0"/>
<line x1="587.3" y1="49.5" x2="582.0" y2="49.5" stroke="#ffc228" stroke-width="1.0"/>
<line x1="582.0" y1="49.5" x2="577.0" y2="50.5" stroke="#ffc127" stroke-width="1.0"/>
<line x1="577.0" y1="50.5" x2="572.0" y2="51.0" stroke="#ffbf27" stroke-width="1.0"/>
<circle cx="561.7" cy="61.8" r="2.1" fill="#ffca28"/>
<circle cx="566.0" cy="61.4" r="2.1" fill="#ffca28"/>
<circle cx="562.8" cy="61.0" r="2.1" fill="#ffc925"/>
<circle cx="568.1" cy="60.4" r="2.1" fill="#ffc822"/>
<circle cx="570.4" cy="65.7" r="2.1" fill="#ffc81f"/>
<circle cx="574.0" cy="61.0" r="2.1" fill="#ffc71c"/>
<circle cx="576.5" cy="57.4" r="2.1" fill="#ffc619"/>
<circle cx="579.5" cy="55.8" r="2.1" fill="#ffc516"/>
<circle cx="583.7" cy="56.1" r="2.1" fill="#ffc413"/>
<circle cx="579.1" cy="54.6" r="2.1" fill="#ffc310"/>
<circle cx="573.0" cy="56.0" r="2.1" fill="#ffc30d"/>
<circle cx="571.5" cy="59.2" r="2.1" fill="#ffc20a"/>
<circle cx="570.0" cy="53.0" r="2.1" fill="#ffc107"/>
<circle cx="575.0" cy="52.0" r="2.1" fill="#ffc006"/>
<circle cx="581.0" cy="51.5" r="2.1" fill="#ffbe06"/>
<circle cx="585.0" cy="53.0" r="2.1" fill="#ffbd05"/>
<circle cx="588.0" cy="51.5" r="2.1" fill="#ffbc04"/>
<circle cx="591.3" cy="49.0" r="2.1" fill="#ffbb04"/>
<circle cx="594.0" cy="50.5" r="2.1" fill="#ffb903"/>
<circle cx="598.1" cy="50.8" r="2.1" fill="#ffb803"/>
<circle cx="587.3" cy="49.5" r="2.1" fill="#ffb702"/>
<circle cx="582.0" cy="49.5" r="2.1" fill="#ffb601"/>
<circle cx="577.0" cy="50.5" r="2.1" fill="#ffb401"/>
<circle cx="572.0" cy="51.0" r="2.1" fill="#ffb300"/>
<line x1="538.7" y1="17.1" x2="543.3" y2="16.6" stroke="#a5dbd5" stroke-width="1.0"/>
<line x1="543.3" y1="16.6" x2="546.7" y2="18.3" stroke="#a2dad4" stroke-width="1.0"/>
<line x1="546.7" y1="18.3" x2="549.5" y2="20.6" stroke="#a0d9d3" stroke-width="1.0"/>
<line x1="549.5" y1="20.6" x2="556.4" y2="21.4" stroke="#9cd7d1" stroke-width="1.0"/>
<line x1="556.4" y1="21.4" x2="547.3" y2="22.8" stroke="#9ad6d0" stroke-width="1.0"/>
<line x1="547.3" y1="22.8" x2="542.1" y2="24.6" stroke="#97d4cf" stroke-width="1.0"/>
<line x1="542.1" y1="24.6" x2="534.7" y2="25.9" stroke="#95d4ce" stroke-width="1.0"/>
<line x1="534.7" y1="25.9" x2="542.7" y2="27.4" stroke="#90d1cb" stroke-width="1.0"/>
<line x1="542.7" y1="27.4" x2="547.8" y2="29.1" stroke="#89cfc8" stroke-width="1.0"/>
<line x1="547.8" y1="29.1" x2="551.3" y2="31.4" stroke="#82ccc5" stroke-width="1.0"/>
<line x1="551.3" y1="31.4" x2="555.3" y2="31.4" stroke="#7cc9c2" stroke-width="1.0"/>
<line x1="555.3" y1="31.4" x2="559.2" y2="32.5" stroke="#75c6be" stroke-width="1.0"/>
<line x1="559.2" y1="32.5" x2="566.7" y2="32.3" stroke="#6ec4bc" stroke-width="1.0"/>
<line x1="566.7" y1="32.3" x2="562.0" y2="33.5" stroke="#68c1b8" stroke-width="1.0"/>
<line x1="562.0" y1="33.5" x2="557.0" y2="34.0" stroke="#68c1b8" stroke-width="1.0"/>
<line x1="557.0" y1="34.0" x2="552.0" y2="34.5" stroke="#64bfb6" stroke-width="1.0"/>
<line x1="552.0" y1="34.5" x2="547.0" y2="34.8" stroke="#61beb3" stroke-width="1.0"/>
<line x1="547.0" y1="34.8" x2="541.0" y2="35.4" stroke="#5ebdb2" stroke-width="1.0"/>
<line x1="541.0" y1="35.4" x2="537.0" y2="35.4" stroke="#5abbaf" stroke-width="1.0"/>
<line x1="537.0" y1="35.4" x2="541.0" y2="36.6" stroke="#57b9ad" stroke-width="1.0"/>
<line x1="541.0" y1="36.6" x2="545.5" y2="36.3" stroke="#52b8ad" stroke-width="1.0"/>
<line x1="545.5" y1="36.3" x2="549.0" y2="36.8" stroke="#4fb7ab" stroke-width="1.0"/>
<line x1="549.0" y1="36.8" x2="552.4" y2="36.5" stroke="#4cb5aa" stroke-width="1.0"/>
<line x1="552.4" y1="36.5" x2="557.0" y2="37.1" stroke="#47b4a9" stroke-width="1.0"/>
<line x1="557.0" y1="37.1" x2="562.7" y2="37.7" stroke="#4cb5ac" stroke-width="1.0"/>
<line x1="562.7" y1="37.7" x2="567.0" y2="38.0" stroke="#52b8ae" stroke-width="1.0"/>
<line x1="567.0" y1="38.0" x2="563.0" y2="38.4" stroke="#59bbb2" stroke-width="1.0"/>
<line x1="563.0" y1="38.4" x2="558.0" y2="38.3" stroke="#61beb5" stroke-width="1.0"/>
<line x1="558.0" y1="38.3" x2="553.0" y2="38.0" stroke="#68c1b8" stroke-width="1.0"/>
<line x1="553.0" y1="38.0" x2="548.0" y2="37.8" stroke="#61beb5" stroke-width="1.0"/>
<line x1="548.0" y1="37.8" x2="543.0" y2="37.6" stroke="#59bbb2" stroke-width="1.0"/>
<line x1="543.0" y1="37.6" x2="537.8" y2="37.1" stroke="#52b8ae" stroke-width="1.0"/>
<line x1="537.8" y1="37.1" x2="540.5" y2="36.9" stroke="#4cb5ac" stroke-width="1.0"/>
<line x1="540.5" y1="36.9" x2="543.4" y2="36.8" stroke="#44b2a8" stroke-width="1.0"/>
<line x1="543.4" y1="36.8" x2="545.5" y2="37.7" stroke="#3dafa5" stroke-width="1.0"/>
<line x1="545.5" y1="37.7" x2="548.5" y2="37.2" stroke="#36ada2" stroke-width="1.0"/>
<line x1="548.5" y1="37.2" x2="551.3" y2="37.1" stroke="#30aa9e" stroke-width="1.0"/>
<line x1="551.3" y1="37.1" x2="553.3" y2="37.0" stroke="#29a79b" stroke-width="1.0"/>
<line x1="553.3" y1="37.0" x2="556.0" y2="37.8" stroke="#26a498" stroke-width="1.0"/>
<line x1="556.0" y1="37.8" x2="559.0" y2="37.2" stroke="#26a296" stroke-width="1.0"/>
<line x1="559.0" y1="37.2" x2="561.3" y2="37.1" stroke="#26a094" stroke-width="1.0"/>
<line x1="561.3" y1="37.1" x2="564.1" y2="36.9" stroke="#269d91" stroke-width="1.0"/>
<circle cx="538.7" cy="17.1" r="2.1" fill="#95d5ce"/>
<circle cx="543.3" cy="16.6" r="2.1" fill="#92d3cc"/>
<circle cx="546.7" cy="18.3" r="2.1" fill="#8fd2cb"/>
<circle cx="549.5" cy="20.6" r="2.1" fill="#8bd0c9"/>
<circle cx="556.4" cy="21.4" r="2.1" fill="#88cfc8"/>
<circle cx="547.3" cy="22.8" r="2.1" fill="#85cdc6"/>
<circle cx="542.1" cy="24.6" r="2.1" fill="#82ccc5"/>
<circle cx="534.7" cy="25.9" r="2.1" fill="#7cc9c2"/>
<circle cx="542.7" cy="27.4" r="2.1" fill="#74c6be"/>
<circle cx="547.8" cy="29.1" r="2.1" fill="#6cc3bb"/>
<circle cx="551.3" cy="31.4" r="2.1" fill="#65c0b7"/>
<circle cx="555.3" cy="31.4" r="2.1" fill="#5dbcb3"/>
<circle cx="559.2" cy="32.5" r="2.1" fill="#55b9b0"/>
<circle cx="566.7" cy="32.3" r="2.1" fill="#4db6ac"/>
<circle cx="562.0" cy="33.5" r="2.1" fill="#4db6ac"/>
<circle cx="557.0" cy="34.0" r="2.1" fill="#49b4a9"/>
<circle cx="552.0" cy="34.5" r="2.1" fill="#45b3a6"/>
<circle cx="547.0" cy="34.8" r="2.1" fill="#41b1a4"/>
<circle cx="541.0" cy="35.4" r="2.1" fill="#3dafa1"/>
<circle cx="537.0" cy="35.4" r="2.1" fill="#39ad9f"/>
<circle cx="541.0" cy="36.6" r="2.1" fill="#34ac9e"/>
<circle cx="545.5" cy="36.3" r="2.1" fill="#30aa9c"/>
<circle cx="549.0" cy="36.8" r="2.1" fill="#2ca89b"/>
<circle cx="552.4" cy="36.5" r="2.1" fill="#27a79a"/>
<circle cx="557.0" cy="37.1" r="2.1" fill="#2ca89d"/>
<circle cx="562.7" cy="37.7" r="2.1" fill="#34aca0"/>
<circle cx="567.0" cy="38.0" r="2.1" fill="#3cafa4"/>
<circle cx="563.0" cy="38.4" r="2.1" fill="#45b3a8"/>
<circle cx="558.0" cy="38.3" r="2.1" fill="#4db6ac"/>
<circle cx="553.0" cy="38.0" r="2.1" fill="#45b3a8"/>
<circle cx="548.0" cy="37.8" r="2.1" fill="#3cafa4"/>
<circle cx="543.0" cy="37.6" r="2.1" fill="#34aca0"/>
<circle cx="537.8" cy="37.1" r="2.1" fill="#2ca89d"/>
<circle cx="540.5" cy="36.9" r="2.1" fill="#23a599"/>
<circle cx="543.4" cy="36.8" r="2.1" fill="#1ba195"/>
<circle cx="545.5" cy="37.7" r="2.1" fill="#139e91"/>
<circle cx="548.5" cy="37.2" r="2.1" fill="#0b9b8d"/>
<circle cx="551.3" cy="37.1" r="2.1" fill="#039789"/>
<circle cx="553.3" cy="37.0" r="2.1" fill="#009486"/>
<circle cx="556.0" cy="37.8" r="2.1" fill="#009183"/>
<circle cx="559.0" cy="37.2" r="2.1" fill="#008f81"/>
<circle cx="561.3" cy="37.1" r="2.1" fill="#008c7e"/>
<circle cx="564.1" cy="36.9" r="2.1" fill="#00897b"/>
<line x1="645.8" y1="16.7" x2="639.2" y2="18.0" stroke="#ffb8a2" stroke-width="1.0"/>
<line x1="639.2" y1="18.0" x2="625.9" y2="19.5" stroke="#ffb69f" stroke-width="1.0"/>
<line x1="625.9" y1="19.5" x2="624.0" y2="21.0" stroke="#ffb39c" stroke-width="1.0"/>
<line x1="624.0" y1="21.0" x2="619.8" y2="22.9" stroke="#ffb299" stroke-width="1.0"/>
<line x1="619.8" y1="22.9" x2="613.1" y2="23.7" stroke="#ffb096" stroke-width="1.0"/>
<line x1="613.1" y1="23.7" x2="616.4" y2="26.2" stroke="#ffae93" stroke-width="1.0"/>
<line x1="616.4" y1="26.2" x2="613.5" y2="28.0" stroke="#ffac90" stroke-width="1.0"/>
<line x1="613.5" y1="28.0" x2="610.7" y2="29.0" stroke="#ffaa8e" stroke-width="1.0"/>
<line x1="610.7" y1="29.0" x2="608.8" y2="33.8" stroke="#ffa88b" stroke-width="1.0"/>
<line x1="608.8" y1="33.8" x2="605.5" y2="34.7" stroke="#ffa789" stroke-width="1.0"/>
<line x1="605.5" y1="34.7" x2="606.3" y2="29.6" stroke="#ffa587" stroke-width="1.0"/>
<line x1="606.3" y1="29.6" x2="603.0" y2="30.2" stroke="#ffa385" stroke-width="1.0"/>
<line x1="603.0" y1="30.2" x2="599.8" y2="30.9" stroke="#ffa183" stroke-width="1.0"/>
<line x1="599.8" y1="30.9" x2="595.5" y2="32.4" stroke="#ff9f80" stroke-width="1.0"/>
<line x1="595.5" y1="32.4" x2="592.6" y2="35.1" stroke="#ff9d7f" stroke-width="1.0"/>
<line x1="592.6" y1="35.1" x2="588.0" y2="35.8" stroke="#ff9c7c" stroke-width="1.0"/>
<line x1="588.0" y1="35.8" x2="584.0" y2="35.5" stroke="#ff9c7c" stroke-width="1.0"/>
<line x1="584.0" y1="35.5" x2="580.0" y2="35.4" stroke="#ff9c7c" stroke-width="1.0"/>
<line x1="580.0" y1="35.4" x2="576.0" y2="35.6" stroke="#ff9378" stroke-width="1.0"/>
<line x1="576.0" y1="35.6" x2="572.5" y2="35.9" stroke="#ff8e6a" stroke-width="1.0"/>
<line x1="572.5" y1="35.9" x2="577.0" y2="37.8" stroke="#ff855f" stroke-width="1.0"/>
<line x1="577.0" y1="37.8" x2="583.0" y2="38.0" stroke="#ff7043" stroke-width="1.0"/>
<line x1="583.0" y1="38.0" x2="588.0" y2="37.8" stroke="#ff7043" stroke-width="1.0"/>
<circle cx="645.8" cy="16.7" r="2.1" fill="#ffab91"/>
<circle cx="639.2" cy="18.0" r="2.1" fill="#ffa98e"/>
<circle cx="625.9" cy="19.5" r="2.1" fill="#ffa68a"/>
<circle cx="624.0" cy="21.0" r="2.1" fill="#ffa487"/>
<circle cx="619.8" cy="22.9" r="2.1" fill="#ffa284"/>
<circle cx="613.1" cy="23.7" r="2.1" fill="#ffa080"/>
<circle cx="616.4" cy="26.2" r="2.1" fill="#ff9d7d"/>
<circle cx="613.5" cy="28.0" r="2.1" fill="#ff9b7a"/>
<circle cx="610.7" cy="29.0" r="2.1" fill="#ff9977"/>
<circle cx="608.8" cy="33.8" r="2.1" fill="#ff9774"/>
<circle cx="605.5" cy="34.7" r="2.1" fill="#ff9572"/>
<circle cx="606.3" cy="29.6" r="2.1" fill="#ff936f"/>
<circle cx="603.0" cy="30.2" r="2.1" fill="#ff906d"/>
<circle cx="599.8" cy="30.9" r="2.1" fill="#ff8e6a"/>
<circle cx="595.5" cy="32.4" r="2.1" fill="#ff8c68"/>
<circle cx="592.6" cy="35.1" r="2.1" fill="#ff8a65"/>
<circle cx="588.0" cy="35.8" r="2.1" fill="#ff8a65"/>
<circle cx="584.0" cy="35.5" r="2.1" fill="#ff8a65"/>
<circle cx="580.0" cy="35.4" r="2.1" fill="#ff8060"/>
<circle cx="576.0" cy="35.6" r="2.1" fill="#ff7a50"/>
<circle cx="572.5" cy="35.9" r="2.1" fill="#ff7043"/>
<circle cx="577.0" cy="37.8" r="2.1" fill="#ff5722"/>
<circle cx="583.0" cy="38.0" r="2.1" fill="#ff5722"/>
<circle cx="588.0" cy="37.8" r="2.1" fill="#f4511e"/>
<line x1="424.1" y1="16.8" x2="429.8" y2="17.4" stroke="#9da7dc" stroke-width="1.0"/>
<line x1="429.8" y1="17.4" x2="439.5" y2="18.5" stroke="#9ba5db" stroke-width="1.0"/>
<line x1="439.5" y1="18.5" x2="442.4" y2="19.9" stroke="#98a2da" stroke-width="1.0"/>
<line x1="442.4" y1="19.9" x2="446.0" y2="21.7" stroke="#96a1d9" stroke-width="1.0"/>
<line x1="446.0" y1="21.7" x2="454.1" y2="23.1" stroke="#949ed8" stroke-width="1.0"/>
<line x1="454.1" y1="23.1" x2="455.3" y2="25.8" stroke="#919cd7" stroke-width="1.0"/>
<line x1="455.3" y1="25.8" x2="458.8" y2="27.5" stroke="#909bd5" stroke-width="1.0"/>
<line x1="458.8" y1="27.5" x2="461.1" y2="30.4" stroke="#909ad4" stroke-width="1.0"/>
<line x1="461.1" y1="30.4" x2="464.6" y2="29.3" stroke="#8f99d4" stroke-width="1.0"/>
<line x1="464.6" y1="29.3" x2="465.2" y2="31.6" stroke="#8d98d3" stroke-width="1.0"/>
<line x1="465.2" y1="31.6" x2="469.0" y2="33.4" stroke="#8a95d1" stroke-width="1.0"/>
<line x1="469.0" y1="33.4" x2="478.1" y2="34.5" stroke="#8690cf" stroke-width="1.0"/>
<line x1="478.1" y1="34.5" x2="486.8" y2="35.5" stroke="#828dcf" stroke-width="1.0"/>
<line x1="486.8" y1="35.5" x2="489.7" y2="36.9" stroke="#7f89cd" stroke-width="1.0"/>
<line x1="489.7" y1="36.9" x2="492.0" y2="38.3" stroke="#7a85ca" stroke-width="1.0"/>
<line x1="492.0" y1="38.3" x2="493.5" y2="40.3" stroke="#737fc9" stroke-width="1.0"/>
<line x1="493.5" y1="40.3" x2="495.5" y2="41.4" stroke="#6c79c6" stroke-width="1.0"/>
<line x1="495.5" y1="41.4" x2="498.5" y2="41.6" stroke="#6573c4" stroke-width="1.0"/>
<line x1="498.5" y1="41.6" x2="501.0" y2="39.8" stroke="#5e6ec1" stroke-width="1.0"/>
<line x1="501.0" y1="39.8" x2="503.0" y2="38.8" stroke="#5a69be" stroke-width="1.0"/>
<line x1="503.0" y1="38.8" x2="505.5" y2="39.6" stroke="#5866b9" stroke-width="1.0"/>
<line x1="505.5" y1="39.6" x2="507.5" y2="40.6" stroke="#5563b6" stroke-width="1.0"/>
<line x1="507.5" y1="40.6" x2="509.5" y2="41.8" stroke="#525fb2" stroke-width="1.0"/>
<line x1="509.5" y1="41.8" x2="512.6" y2="41.6" stroke="#4f5cad" stroke-width="1.0"/>
<line x1="512.6" y1="41.6" x2="517.9" y2="41.6" stroke="#4f5cad" stroke-width="1.0"/>
<line x1="517.9" y1="41.6" x2="521.3" y2="40.9" stroke="#4e5bad" stroke-width="1.0"/>
<line x1="521.3" y1="40.9" x2="523.5" y2="41.5" stroke="#4e5aac" stroke-width="1.0"/>
<line x1="523.5" y1="41.5" x2="525.5" y2="41.3" stroke="#4d59ab" stroke-width="1.0"/>
<line x1="525.5" y1="41.3" x2="527.2" y2="41.3" stroke="#4c59aa" stroke-width="1.0"/>
<line x1="527.2" y1="41.3" x2="529.8" y2="41.6" stroke="#4c58a9" stroke-width="1.0"/>
<line x1="529.8" y1="41.6" x2="531.6" y2="40.9" stroke="#4c58a8" stroke-width="1.0"/>
<line x1="531.6" y1="40.9" x2="533.7" y2="41.6" stroke="#4b57a7" stroke-width="1.0"/>
<line x1="533.7" y1="41.6" x2="535.3" y2="41.4" stroke="#4b56a7" stroke-width="1.0"/>
<line x1="535.3" y1="41.4" x2="537.2" y2="41.0" stroke="#4a56a6" stroke-width="1.0"/>
<line x1="537.2" y1="41.0" x2="539.4" y2="41.0" stroke="#4955a5" stroke-width="1.0"/>
<line x1="539.4" y1="41.0" x2="541.7" y2="41.6" stroke="#4954a4" stroke-width="1.0"/>
<line x1="541.7" y1="41.6" x2="543.4" y2="41.1" stroke="#4853a3" stroke-width="1.0"/>
<line x1="543.4" y1="41.1" x2="545.3" y2="40.9" stroke="#4853a3" stroke-width="1.0"/>
<line x1="545.3" y1="40.9" x2="547.6" y2="41.4" stroke="#4853a3" stroke-width="1.0"/>
<line x1="547.6" y1="41.4" x2="549.2" y2="41.3" stroke="#4853a3" stroke-width="1.0"/>
<line x1="549.2" y1="41.3" x2="551.4" y2="41.6" stroke="#4853a3" stroke-width="1.0"/>
<line x1="551.4" y1="41.6" x2="553.6" y2="41.4" stroke="#4853a3" stroke-width="1.0"/>
<line x1="553.6" y1="41.4" x2="555.5" y2="41.7" stroke="#4853a3" stroke-width="1.0"/>
<line x1="555.5" y1="41.7" x2="557.8" y2="41.2" stroke="#4853a3" stroke-width="1.0"/>
<line x1="557.8" y1="41.2" x2="559.3" y2="41.6" stroke="#4853a3" stroke-width="1.0"/>
<line x1="559.3" y1="41.6" x2="561.2" y2="41.2" stroke="#4853a3" stroke-width="1.0"/>
<line x1="561.2" y1="41.2" x2="563.2" y2="41.1" stroke="#4853a3" stroke-width="1.0"/>
<line x1="563.2" y1="41.1" x2="565.2" y2="41.1" stroke="#4853a3" stroke-width="1.0"/>
<line x1="565.2" y1="41.1" x2="567.7" y2="41.7" stroke="#4853a3" stroke-width="1.0"/>
<line x1="567.7" y1="41.7" x2="569.7" y2="41.4" stroke="#4752a2" stroke-width="1.0"/>
<line x1="569.7" y1="41.4" x2="571.6" y2="41.2" stroke="#4752a2" stroke-width="1.0"/>
<line x1="571.6" y1="41.2" x2="573.3" y2="41.2" stroke="#4752a2" stroke-width="1.0"/>
<line x1="573.3" y1="41.2" x2="575.6" y2="40.9" stroke="#4652a1" stroke-width="1.0"/>
<line x1="575.6" y1="40.9" x2="577.2" y2="41.5" stroke="#4551a0" stroke-width="1.0"/>
<line x1="577.2" y1="41.5" x2="579.4" y2="41.5" stroke="#45519f" stroke-width="1.0"/>
<line x1="579.4" y1="41.5" x2="581.6" y2="41.7" stroke="#44519f" stroke-width="1.0"/>
<line x1="581.6" y1="41.7" x2="583.4" y2="41.2" stroke="#43509e" stroke-width="1.0"/>
<line x1="583.4" y1="41.2" x2="585.7" y2="41.5" stroke="#424f9d" stroke-width="1.0"/>
<line x1="585.7" y1="41.5" x2="587.6" y2="41.6" stroke="#414f9d" stroke-width="1.0"/>
<line x1="587.6" y1="41.6" x2="589.6" y2="41.7" stroke="#414f9c" stroke-width="1.0"/>
<circle cx="424.1" cy="16.8" r="2.1" fill="#8c98d6"/>
<circle cx="429.8" cy="17.4" r="2.1" fill="#8995d5"/>
<circle cx="439.5" cy="18.5" r="2.1" fill="#8692d3"/>
<circle cx="442.4" cy="19.9" r="2.1" fill="#8490d2"/>
<circle cx="446.0" cy="21.7" r="2.1" fill="#818dd1"/>
<circle cx="454.1" cy="23.1" r="2.1" fill="#7e8bd0"/>
<circle cx="455.3" cy="25.8" r="2.1" fill="#7d89ce"/>
<circle cx="458.8" cy="27.5" r="2.1" fill="#7c88cd"/>
<circle cx="461.1" cy="30.4" r="2.1" fill="#7b87cc"/>
<circle cx="464.6" cy="29.3" r="2.1" fill="#7986cb"/>
<circle cx="465.2" cy="31.6" r="2.1" fill="#7582c9"/>
<circle cx="469.0" cy="33.4" r="2.1" fill="#717dc7"/>
<circle cx="478.1" cy="34.5" r="2.1" fill="#6c79c6"/>
<circle cx="486.8" cy="35.5" r="2.1" fill="#6874c4"/>
<circle cx="489.7" cy="36.9" r="2.1" fill="#626fc1"/>
<circle cx="492.0" cy="38.3" r="2.1" fill="#5a68bf"/>
<circle cx="493.5" cy="40.3" r="2.1" fill="#5261bc"/>
<circle cx="495.5" cy="41.4" r="2.1" fill="#4a5ab9"/>
<circle cx="498.5" cy="41.6" r="2.1" fill="#4254b6"/>
<circle cx="501.0" cy="39.8" r="2.1" fill="#3d4fb2"/>
<circle cx="503.0" cy="38.8" r="2.1" fill="#3a4bad"/>
<circle cx="505.5" cy="39.6" r="2.1" fill="#3747a9"/>
<circle cx="507.5" cy="40.6" r="2.1" fill="#3343a4"/>
<circle cx="509.5" cy="41.8" r="2.1" fill="#303f9f"/>
<circle cx="512.6" cy="41.6" r="2.1" fill="#303f9f"/>
<circle cx="517.9" cy="41.6" r="2.1" fill="#2f3e9e"/>
<circle cx="521.3" cy="40.9" r="2.1" fill="#2f3d9d"/>
<circle cx="523.5" cy="41.5" r="2.1" fill="#2e3c9c"/>
<circle cx="525.5" cy="41.3" r="2.1" fill="#2d3c9b"/>
<circle cx="527.2" cy="41.3" r="2.1" fill="#2d3b9a"/>
<circle cx="529.8" cy="41.6" r="2.1" fill="#2c3a99"/>
<circle cx="531.6" cy="40.9" r="2.1" fill="#2b3998"/>
<circle cx="533.7" cy="41.6" r="2.1" fill="#2b3897"/>
<circle cx="535.3" cy="41.4" r="2.1" fill="#2a3896"/>
<circle cx="537.2" cy="41.0" r="2.1" fill="#293795"/>
<circle cx="539.4" cy="41.0" r="2.1" fill="#293694"/>
<circle cx="541.7" cy="41.6" r="2.1" fill="#283593"/>
<circle cx="543.4" cy="41.1" r="2.1" fill="#283593"/>
<circle cx="545.3" cy="40.9" r="2.1" fill="#283593"/>
<circle cx="547.6" cy="41.4" r="2.1" fill="#283593"/>
<circle cx="549.2" cy="41.3" r="2.1" fill="#283593"/>
<circle cx="551.4" cy="41.6" r="2.1" fill="#283593"/>
<circle cx="553.6" cy="41.4" r="2.1" fill="#283593"/>
<circle cx="555.5" cy="41.7" r="2.1" fill="#283593"/>
<circle cx="557.8" cy="41.2" r="2.1" fill="#283593"/>
<circle cx="559.3" cy="41.6" r="2.1" fill="#283593"/>
<circle cx="561.2" cy="41.2" r="2.1" fill="#283593"/>
<circle cx="563.2" cy="41.1" r="2.1" fill="#283593"/>
<circle cx="565.2" cy="41.1" r="2.1" fill="#283593"/>
<circle cx="567.7" cy="41.7" r="2.1" fill="#273492"/>
<circle cx="569.7" cy="41.4" r="2.1" fill="#263492"/>
<circle cx="571.6" cy="41.2" r="2.1" fill="#263491"/>
<circle cx="573.3" cy="41.2" r="2.1" fill="#253390"/>
<circle cx="575.6" cy="40.9" r="2.1" fill="#24328f"/>
<circle cx="577.2" cy="41.5" r="2.1" fill="#24328e"/>
<circle cx="579.4" cy="41.5" r="2.1" fill="#23328e"/>
<circle cx="581.6" cy="41.7" r="2.1" fill="#22318d"/>
<circle cx="583.4" cy="41.2" r="2.1" fill="#21308c"/>
<circle cx="585.7" cy="41.5" r="2.1" fill="#20308c"/>
<circle cx="587.6" cy="41.6" r="2.1" fill="#20308b"/>
<circle cx="589.6" cy="41.7" r="2.1" fill="#1f2f8a"/>
<circle cx="534.9" cy="41.0" r="2.1" fill="#1565c0"/>
<circle cx="537.1" cy="41.0" r="2.1" fill="#1460ba"/>
<circle cx="538.8" cy="41.5" r="2.1" fill="#125ab5"/>
<circle cx="540.8" cy="41.6" r="2.1" fill="#1155af"/>
<circle cx="543.3" cy="41.3" r="2.1" fill="#0f50aa"/>
<circle cx="544.9" cy="41.2" r="2.1" fill="#0e4aa4"/>
<circle cx="546.8" cy="41.2" r="2.1" fill="#0e49a3"/>
<circle cx="549.0" cy="41.0" r="2.1" fill="#0f4ea9"/>
<circle cx="551.1" cy="41.2" r="2.1" fill="#1054ae"/>
<circle cx="553.1" cy="41.3" r="2.1" fill="#1259b4"/>
<circle cx="555.1" cy="41.6" r="2.1" fill="#135fb9"/>
<circle cx="557.0" cy="41.3" r="2.1" fill="#1564bf"/>
<circle cx="558.8" cy="41.3" r="2.1" fill="#1461bc"/>
<circle cx="560.9" cy="41.5" r="2.1" fill="#125bb6"/>
<circle cx="562.8" cy="41.6" r="2.1" fill="#1156b0"/>
<circle cx="564.7" cy="41.1" r="2.1" fill="#1051ab"/>
<circle cx="566.9" cy="41.5" r="2.1" fill="#0e4ba5"/>
<circle cx="569.3" cy="41.2" r="2.1" fill="#0d47a1"/>
<circle cx="571.0" cy="41.7" r="2.1" fill="#1044a0"/>
<circle cx="573.2" cy="41.1" r="2.1" fill="#12429e"/>
<circle cx="574.9" cy="41.6" r="2.1" fill="#14409d"/>
<circle cx="576.9" cy="41.4" r="2.1" fill="#173d9c"/>
<circle cx="578.8" cy="41.2" r="2.1" fill="#193b9a"/>
<circle cx="581.2" cy="41.7" r="2.1" fill="#1b3999"/>
<circle cx="582.8" cy="41.2" r="2.1" fill="#1e3998"/>
<circle cx="585.0" cy="41.8" r="2.1" fill="#203897"/>
<circle cx="587.1" cy="41.6" r="2.1" fill="#233796"/>
<circle cx="588.9" cy="41.2" r="2.1" fill="#263694"/>
<circle cx="590.8" cy="41.5" r="2.1" fill="#283593"/>
<line x1="422.6" y1="167.20" x2="441.8" y2="167.20" stroke="#f59a7e" stroke-width="1"/>
<circle cx="432.1" cy="167.20" r="2" fill="#f59a7e"/>
<line x1="422.6" y1="172.58" x2="441.8" y2="172.58" stroke="#fbbb70" stroke-width="1"/>
<circle cx="432.1" cy="172.58" r="2" fill="#fbbb70"/>
<line x1="422.6" y1="177.96" x2="441.8" y2="177.96" stroke="#fdd77e" stroke-width="1"/>
<circle cx="432.1" cy="177.96" r="2" fill="#fdd77e"/>
<line x1="422.6" y1="183.34" x2="441.8" y2="183.34" stroke="#b9d993" stroke-width="1"/>
<circle cx="432.1" cy="183.34" r="2" fill="#b9d993"/>
<line x1="422.6" y1="188.72" x2="441.8" y2="188.72" stroke="#6dbfae" stroke-width="1"/>
<circle cx="432.1" cy="188.72" r="2" fill="#6dbfae"/>
<line x1="422.6" y1="194.10" x2="441.8" y2="194.10" stroke="#6fcbf2" stroke-width="1"/>
<circle cx="432.1" cy="194.10" r="2" fill="#6fcbf2"/>
<line x1="422.6" y1="199.48" x2="441.8" y2="199.48" stroke="#7dbaf3" stroke-width="1"/>
<circle cx="432.1" cy="199.48" r="2" fill="#7dbaf3"/>
<line x1="422.6" y1="204.86" x2="441.8" y2="204.86" stroke="#9aa3dc" stroke-width="1"/>
<circle cx="432.1" cy="204.86" r="2" fill="#9aa3dc"/>
<text transform="translate(0.2,9.7) scale(0.84,1.04)" style="font-size:13px;font-weight:bold;fill:#000">a</text>
<text transform="translate(355,9.8) scale(0.97,1.06)" style="font-size:13.2px;font-weight:bold;fill:#000">b</text>
<text transform="translate(41.8,21.5) scale(1,1.03)" text-anchor="end" style="font-size:9.7px">60</text>
<text transform="translate(41.8,82.0) scale(1,1.03)" text-anchor="end" style="font-size:9.7px">40</text>
<text transform="translate(41.8,143.0) scale(1,1.03)" text-anchor="end" style="font-size:9.7px">20</text>
<text transform="translate(41.8,204.3) scale(1,1.03)" text-anchor="end" style="font-size:9.7px">0</text>
<text transform="translate(56.7,228.6) scale(1,1.03)" text-anchor="middle" style="font-size:9.7px">0</text>
<text transform="translate(110.4,228.6) scale(1,1.03)" text-anchor="middle" style="font-size:9.7px">60</text>
<text transform="translate(160.4,228.6) scale(1,1.03)" text-anchor="middle" style="font-size:9.7px">120</text>
<text transform="translate(217,228.6) scale(1,1.03)" text-anchor="middle" style="font-size:9.7px">180</text>
<text transform="translate(273.1,228.6) scale(1,1.03)" text-anchor="middle" style="font-size:9.7px">240</text>
<text transform="translate(324.8,228.6) scale(1,1.03)" text-anchor="middle" style="font-size:9.7px">300</text>
<text transform="translate(125,246.8) scale(1,1.0)" text-anchor="start" style="font-size:10.6px" textLength="128.6" lengthAdjust="spacingAndGlyphs">Number of strides passed</text>
<text transform="translate(142.2,260.5) scale(1,1.0)" text-anchor="start" style="font-size:10.6px" textLength="94.6" lengthAdjust="spacingAndGlyphs">during optimization</text>
<text transform="translate(12.2,162.8) rotate(-90) scale(1,1.0)" text-anchor="start" style="font-size:10.6px" textLength="117.4" lengthAdjust="spacingAndGlyphs">Peak assistance torque</text>
<text transform="translate(25.9,165.1) rotate(-90) scale(1,1.0)" text-anchor="start" style="font-size:10.6px" textLength="118.2" lengthAdjust="spacingAndGlyphs">during optimizition (Nm)</text>
<text transform="translate(267.6,85.8) scale(1,1.06)" text-anchor="start" style="font-size:9.8px">α = 0.005</text>
<text transform="translate(267.6,97.25) scale(1,1.06)" text-anchor="start" style="font-size:9.8px">α = 0.01</text>
<text transform="translate(267.6,108.69999999999999) scale(1,1.06)" text-anchor="start" style="font-size:9.8px">α = 0.025</text>
<text transform="translate(267.6,120.14999999999999) scale(1,1.06)" text-anchor="start" style="font-size:9.8px">α = 0.05</text>
<text transform="translate(267.6,131.6) scale(1,1.06)" text-anchor="start" style="font-size:9.8px">α = 0.1</text>
<text transform="translate(394,21.7) scale(1,1.03)" text-anchor="end" style="font-size:9.7px">60</text>
<text transform="translate(394,82.2) scale(1,1.03)" text-anchor="end" style="font-size:9.7px">40</text>
<text transform="translate(394,143.2) scale(1,1.03)" text-anchor="end" style="font-size:9.7px">20</text>
<text transform="translate(394,204.5) scale(1,1.03)" text-anchor="end" style="font-size:9.7px">0</text>
<text transform="translate(408.1,227.7) scale(1,1.03)" text-anchor="middle" style="font-size:9.7px">46</text>
<text transform="translate(475.8,227.7) scale(1,1.03)" text-anchor="middle" style="font-size:9.7px">48</text>
<text transform="translate(544.4,227.7) scale(1,1.03)" text-anchor="middle" style="font-size:9.7px">50</text>
<text transform="translate(612.3,227.7) scale(1,1.03)" text-anchor="middle" style="font-size:9.7px">52</text>
<text transform="translate(680.1,227.7) scale(1,1.03)" text-anchor="middle" style="font-size:9.7px">54</text>
<text transform="translate(477.6,246.8) scale(1,1.0)" text-anchor="start" style="font-size:10.6px" textLength="137.4" lengthAdjust="spacingAndGlyphs">Peak time (&#37; stride period)</text>
<text transform="translate(474.2,260.5) scale(1,1.0)" text-anchor="start" style="font-size:10.6px" textLength="143.6" lengthAdjust="spacingAndGlyphs">of torque during optimization</text>
<text transform="translate(364.1,163.1) rotate(-90) scale(1,1.0)" text-anchor="start" style="font-size:10.6px" textLength="117.4" lengthAdjust="spacingAndGlyphs">Peak assistance torque</text>
<text transform="translate(378.2,164.9) rotate(-90) scale(1,1.0)" text-anchor="start" style="font-size:10.6px" textLength="118.2" lengthAdjust="spacingAndGlyphs">during optimizition (Nm)</text>
<text transform="translate(454.4,175.7) scale(1,1.06)" text-anchor="start" style="font-size:9.8px">optimization routes from different</text>
<text transform="translate(454.4,190.14999999999998) scale(1,1.06)" text-anchor="start" style="font-size:9.8px">initial locations for a participant</text>
<text transform="translate(454.4,204.6) scale(1,1.06)" text-anchor="start" style="font-size:9.8px">*Dark colors denote later strides</text>
</svg>
</body></html>
